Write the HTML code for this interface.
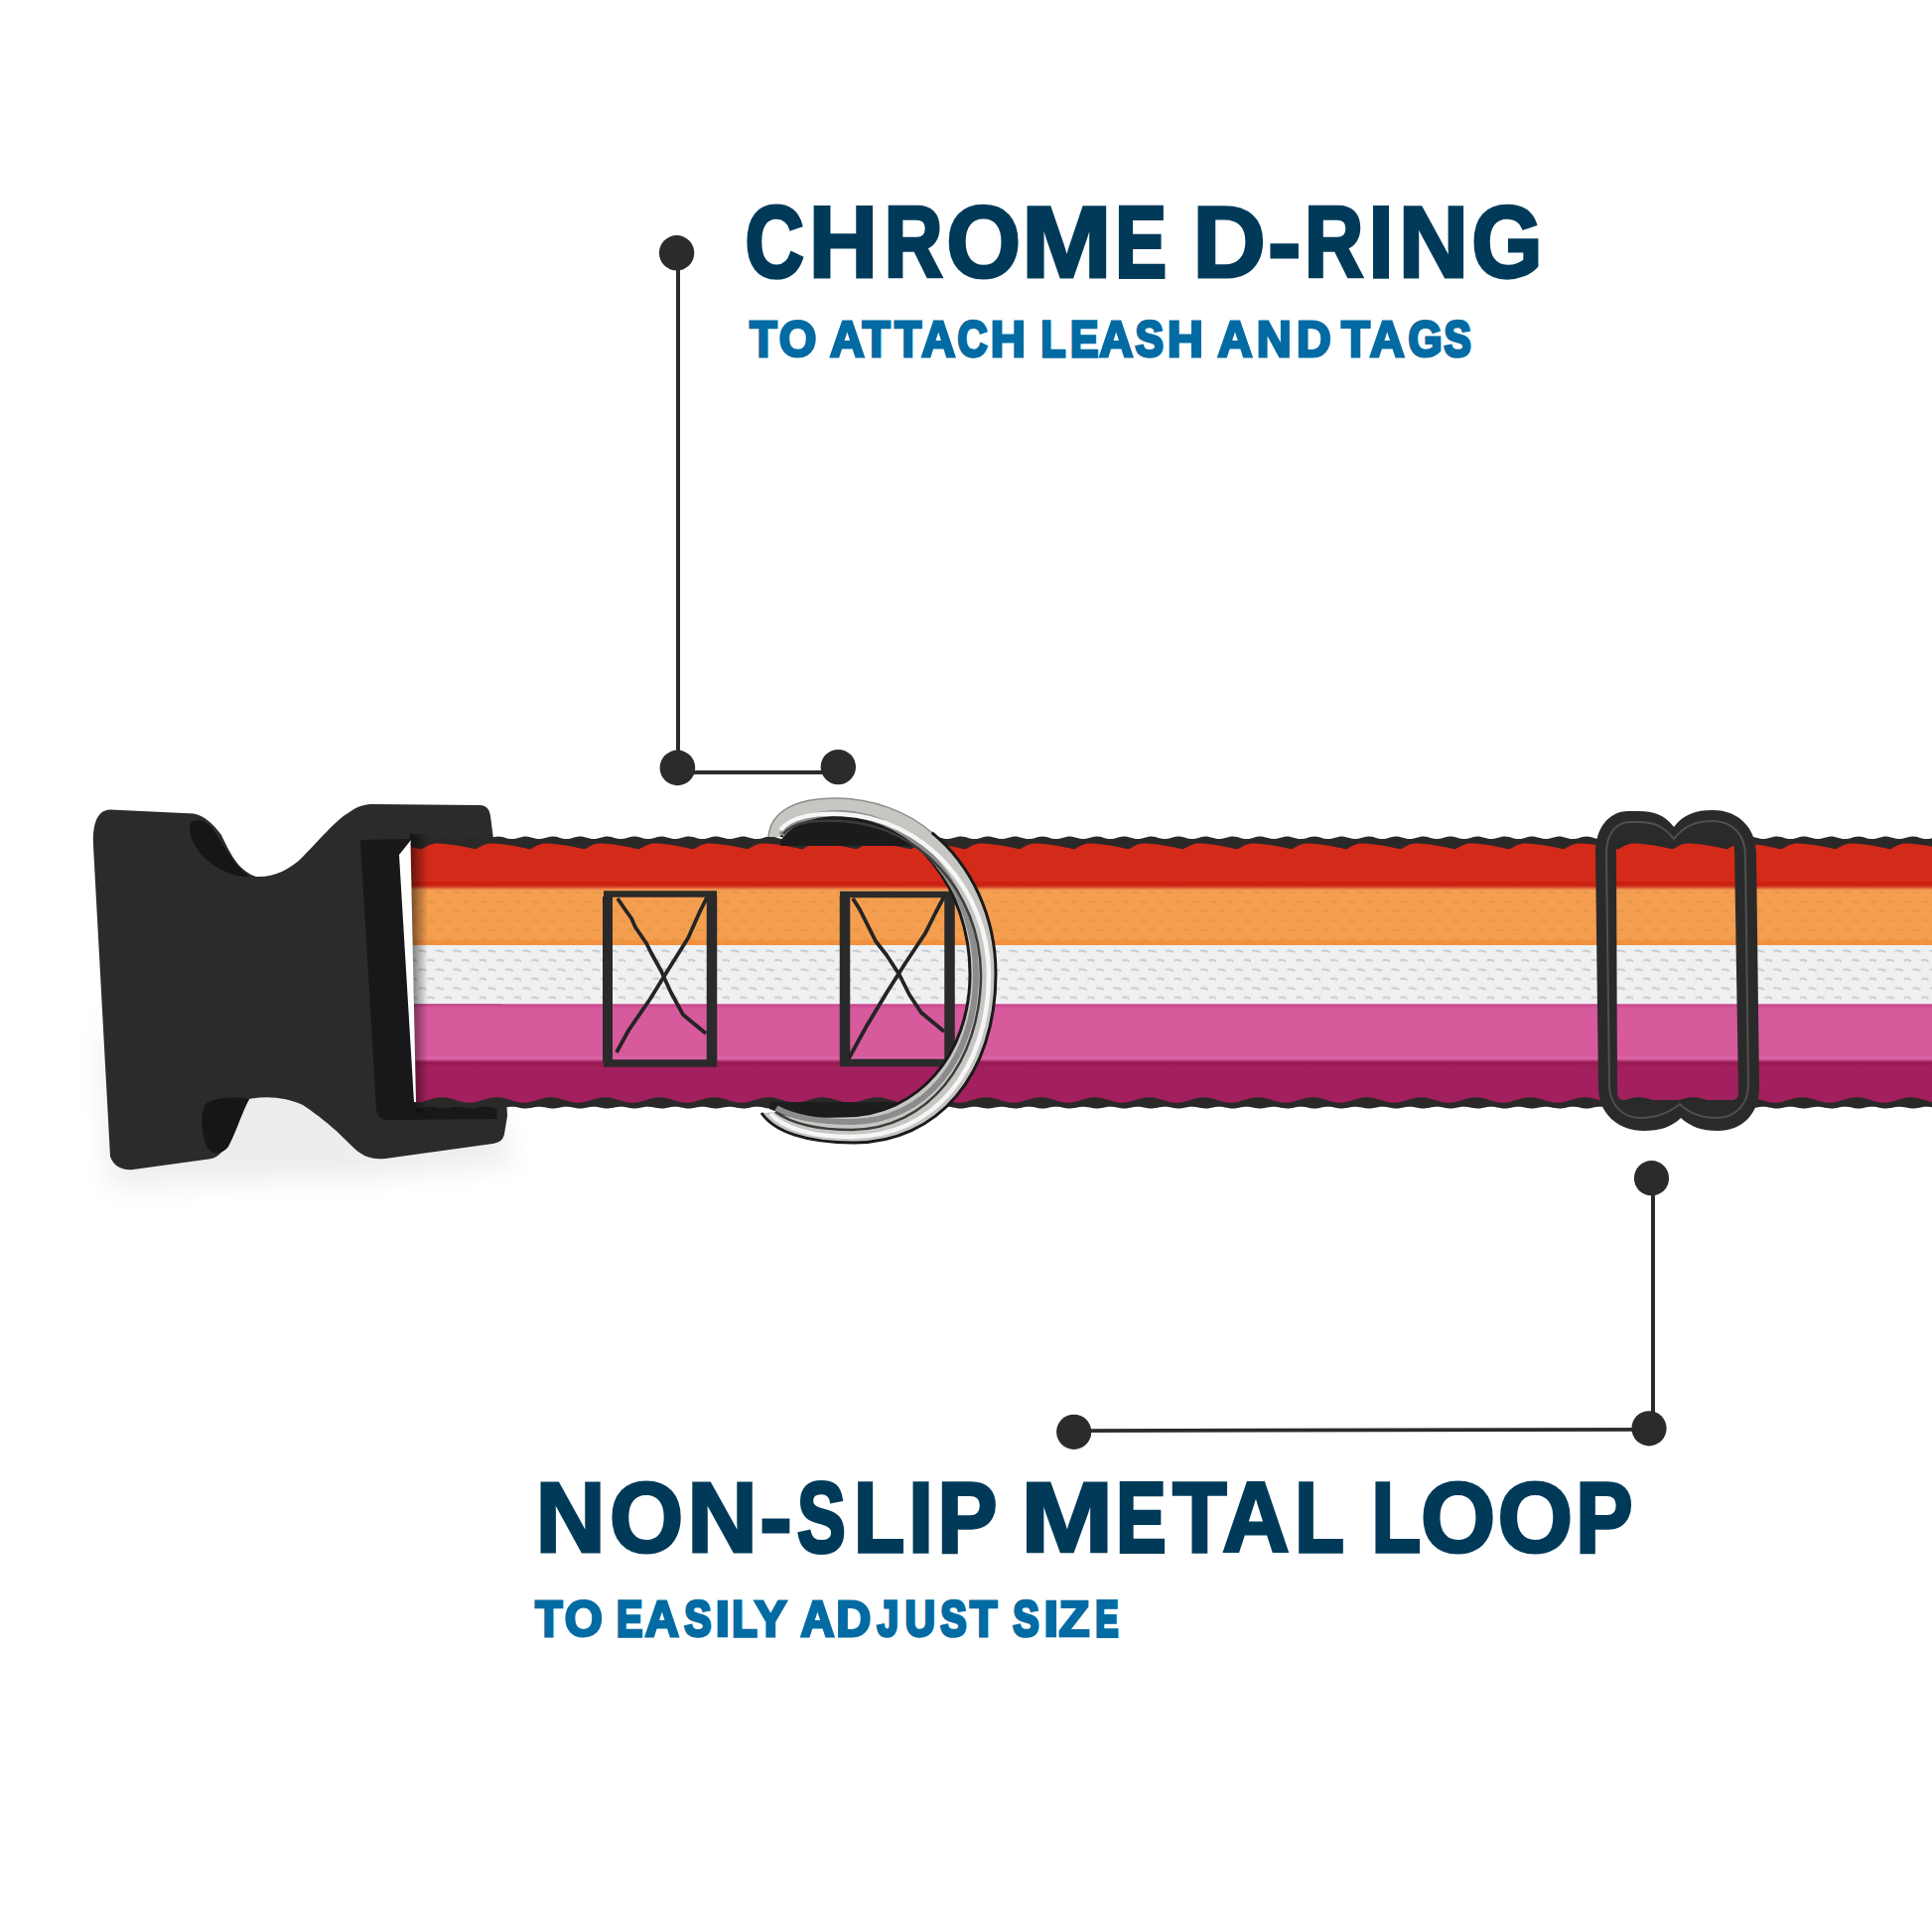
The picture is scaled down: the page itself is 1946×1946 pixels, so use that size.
<!DOCTYPE html>
<html><head><meta charset="utf-8">
<style>
html,body{margin:0;padding:0;background:#ffffff;width:1946px;height:1946px;overflow:hidden}
svg{display:block}
text{font-family:"Liberation Sans",sans-serif;font-weight:bold}
</style></head>
<body>
<svg width="1946" height="1946" viewBox="0 0 1946 1946">
<defs>
  <linearGradient id="ringg" x1="0" y1="0" x2="1" y2="1">
    <stop offset="0" stop-color="#e6e6e6"/>
    <stop offset="0.5" stop-color="#b9b9b9"/>
    <stop offset="1" stop-color="#8a8a8a"/>
  </linearGradient>
  <pattern id="texO" x="0" y="896" width="17.5" height="18.8" patternUnits="userSpaceOnUse">
    <path d="M 2,3 q 3.5,-1.2 7,0.8" stroke="#b8923f" stroke-opacity="0.42" stroke-width="1.8" fill="none"/>
    <path d="M 10.75,12.4 q 3.5,-1.2 7,0.8" stroke="#b8923f" stroke-opacity="0.42" stroke-width="1.8" fill="none"/>
  </pattern>
  <pattern id="texW" x="0" y="955" width="17.5" height="18.8" patternUnits="userSpaceOnUse">
    <path d="M 1.5,3 q 4,-1.6 8,1.2" stroke="#a3a6a8" stroke-opacity="0.5" stroke-width="2" fill="none"/>
    <path d="M 10.25,12.4 q 4,-1.6 8,1.2" stroke="#a3a6a8" stroke-opacity="0.5" stroke-width="2" fill="none"/>
  </pattern>
  <filter id="blur12" x="-30%" y="-30%" width="160%" height="160%"><feGaussianBlur stdDeviation="14"/></filter>
  <linearGradient id="pinkTop" x1="0" y1="0" x2="0" y2="1"><stop offset="0" stop-color="#c9408c"/><stop offset="1" stop-color="#d65a9c"/></linearGradient>
  <linearGradient id="magTop" x1="0" y1="0" x2="0" y2="1"><stop offset="0" stop-color="#d05897"/><stop offset="0.35" stop-color="#961852"/><stop offset="1" stop-color="#a1205d"/></linearGradient>
  <linearGradient id="redOr" x1="0" y1="0" x2="0" y2="1"><stop offset="0" stop-color="#c81c10"/><stop offset="0.3" stop-color="#cf3a20"/><stop offset="0.7" stop-color="#f2904e"/><stop offset="1" stop-color="#f6a457"/></linearGradient>
</defs>
<rect width="1946" height="1946" fill="#ffffff"/>

<!-- ===== annotation top ===== -->
<g fill="#2b2b2b" stroke="none">
  <rect x="681" y="255" width="4" height="520"/>
  <rect x="682" y="776" width="162" height="4"/>
  <circle cx="681.6" cy="254.8" r="17.7"/>
  <circle cx="682.4" cy="773.4" r="17.8"/>
  <circle cx="844.3" cy="772.6" r="17.7"/>
</g>
<!-- ===== annotation bottom ===== -->
<g fill="#2b2b2b" stroke="none">
  <rect x="1663" y="1187" width="4" height="252"/>
  <polygon points="1082,1439.2 1661,1438.1 1661,1441.8 1082,1442.9"/>
  <circle cx="1663.5" cy="1186.7" r="17.6"/>
  <circle cx="1661" cy="1438.8" r="17.6"/>
  <circle cx="1081.7" cy="1442.3" r="17.6"/>
</g>

<!-- ===== text ===== -->
<g font-size="101.2" fill="#013a59" stroke="#013a59" stroke-linejoin="miter">
<text stroke-width="3.70" transform="matrix(0.8116,0,0,1,750.53,279.3)">C</text>
<text stroke-width="3.16" transform="matrix(0.9480,0,0,1,814.78,279.3)">H</text>
<text stroke-width="3.73" transform="matrix(0.8033,0,0,1,890.66,279.3)">R</text>
<text stroke-width="3.15" transform="matrix(0.9514,0,0,1,953.25,279.3)">O</text>
<text stroke-width="2.77" transform="matrix(1.0825,0,0,1,1028.87,279.3)">M</text>
<text stroke-width="3.92" transform="matrix(0.7662,0,0,1,1123.31,279.3)">E</text>
<text stroke-width="2.97" transform="matrix(1.0086,0,0,1,1201.17,279.3)">D</text>
<text stroke-width="3.02" transform="matrix(0.9924,0,0,1,1276.98,279.3)">-</text>
<text stroke-width="3.70" transform="matrix(0.8110,0,0,1,1314.11,279.3)">R</text>
<text stroke-width="3.36" transform="matrix(0.8918,0,0,1,1378.46,279.3)">I</text>
<text stroke-width="3.11" transform="matrix(0.9631,0,0,1,1408.78,279.3)">N</text>
<text stroke-width="3.31" transform="matrix(0.9064,0,0,1,1482.14,279.3)">G</text>
</g>
<g font-size="50.4" fill="#036ba3" stroke="#036ba3" stroke-linejoin="miter">
<text stroke-width="3.17" transform="matrix(0.8828,0,0,1,755.30,359.35)">T</text>
<text stroke-width="2.92" transform="matrix(0.9595,0,0,1,784.72,359.35)">O</text>
<text stroke-width="2.94" transform="matrix(0.9523,0,0,1,836.10,359.35)">A</text>
<text stroke-width="3.11" transform="matrix(0.8996,0,0,1,868.79,359.35)">T</text>
<text stroke-width="3.23" transform="matrix(0.8659,0,0,1,901.31,359.35)">T</text>
<text stroke-width="3.00" transform="matrix(0.9345,0,0,1,928.13,359.35)">A</text>
<text stroke-width="3.40" transform="matrix(0.8224,0,0,1,964.60,359.35)">C</text>
<text stroke-width="2.89" transform="matrix(0.9686,0,0,1,997.83,359.35)">H</text>
<text stroke-width="3.48" transform="matrix(0.8042,0,0,1,1048.59,359.35)">L</text>
<text stroke-width="3.33" transform="matrix(0.8417,0,0,1,1077.96,359.35)">E</text>
<text stroke-width="3.00" transform="matrix(0.9345,0,0,1,1107.23,359.35)">A</text>
<text stroke-width="3.32" transform="matrix(0.8445,0,0,1,1143.57,359.35)">S</text>
<text stroke-width="2.81" transform="matrix(0.9956,0,0,1,1175.74,359.35)">H</text>
<text stroke-width="2.91" transform="matrix(0.9612,0,0,1,1226.39,359.35)">A</text>
<text stroke-width="2.91" transform="matrix(0.9619,0,0,1,1265.66,359.35)">N</text>
<text stroke-width="2.93" transform="matrix(0.9544,0,0,1,1306.08,359.35)">D</text>
<text stroke-width="3.02" transform="matrix(0.9266,0,0,1,1351.18,359.35)">T</text>
<text stroke-width="2.91" transform="matrix(0.9612,0,0,1,1379.79,359.35)">A</text>
<text stroke-width="3.23" transform="matrix(0.8674,0,0,1,1418.51,359.35)">G</text>
<text stroke-width="3.47" transform="matrix(0.8081,0,0,1,1454.53,359.35)">S</text>
</g>
<g font-size="100.7" fill="#013a59" stroke="#013a59" stroke-linejoin="miter">
<text stroke-width="3.10" transform="matrix(0.9662,0,0,1,539.39,1562.7)">N</text>
<text stroke-width="3.17" transform="matrix(0.9476,0,0,1,613.89,1562.7)">O</text>
<text stroke-width="3.09" transform="matrix(0.9713,0,0,1,692.26,1562.7)">N</text>
<text stroke-width="3.09" transform="matrix(0.9699,0,0,1,765.18,1562.7)">-</text>
<text stroke-width="4.14" transform="matrix(0.7243,0,0,1,802.90,1562.7)">S</text>
<text stroke-width="3.61" transform="matrix(0.8301,0,0,1,859.91,1562.7)">L</text>
<text stroke-width="3.35" transform="matrix(0.8962,0,0,1,915.06,1562.7)">I</text>
<text stroke-width="3.35" transform="matrix(0.8967,0,0,1,944.26,1562.7)">P</text>
<text stroke-width="2.69" transform="matrix(1.1149,0,0,1,1027.89,1562.7)">M</text>
<text stroke-width="4.01" transform="matrix(0.7487,0,0,1,1124.16,1562.7)">E</text>
<text stroke-width="3.40" transform="matrix(0.8820,0,0,1,1181.20,1562.7)">T</text>
<text stroke-width="3.24" transform="matrix(0.9266,0,0,1,1231.18,1562.7)">A</text>
<text stroke-width="3.72" transform="matrix(0.8069,0,0,1,1304.26,1562.7)">L</text>
<text stroke-width="3.72" transform="matrix(0.8069,0,0,1,1381.46,1562.7)">L</text>
<text stroke-width="3.12" transform="matrix(0.9604,0,0,1,1430.93,1562.7)">O</text>
<text stroke-width="3.11" transform="matrix(0.9661,0,0,1,1508.41,1562.7)">O</text>
<text stroke-width="3.52" transform="matrix(0.8528,0,0,1,1587.16,1562.7)">P</text>
</g>
<g font-size="49.7" fill="#036ba3" stroke="#036ba3" stroke-linejoin="miter">
<text stroke-width="3.14" transform="matrix(0.8918,0,0,1,539.20,1648.35)">T</text>
<text stroke-width="2.84" transform="matrix(0.9875,0,0,1,568.69,1648.35)">O</text>
<text stroke-width="3.55" transform="matrix(0.7890,0,0,1,621.08,1648.35)">E</text>
<text stroke-width="2.95" transform="matrix(0.9507,0,0,1,649.72,1648.35)">A</text>
<text stroke-width="3.42" transform="matrix(0.8194,0,0,1,689.13,1648.35)">S</text>
<text stroke-width="2.64" transform="matrix(1.0616,0,0,1,720.47,1648.35)">I</text>
<text stroke-width="3.35" transform="matrix(0.8351,0,0,1,737.22,1648.35)">L</text>
<text stroke-width="2.85" transform="matrix(0.9810,0,0,1,760.07,1648.35)">Y</text>
<text stroke-width="2.96" transform="matrix(0.9447,0,0,1,806.43,1648.35)">A</text>
<text stroke-width="2.86" transform="matrix(0.9777,0,0,1,842.15,1648.35)">D</text>
<text stroke-width="3.59" transform="matrix(0.7790,0,0,1,883.51,1648.35)">J</text>
<text stroke-width="3.29" transform="matrix(0.8503,0,0,1,911.46,1648.35)">U</text>
<text stroke-width="3.53" transform="matrix(0.7926,0,0,1,947.27,1648.35)">S</text>
<text stroke-width="3.13" transform="matrix(0.8952,0,0,1,976.90,1648.35)">T</text>
<text stroke-width="3.53" transform="matrix(0.7926,0,0,1,1020.27,1648.35)">S</text>
<text stroke-width="2.57" transform="matrix(1.0895,0,0,1,1051.18,1648.35)">I</text>
<text stroke-width="2.74" transform="matrix(1.0202,0,0,1,1066.49,1648.35)">Z</text>
<text stroke-width="4.07" transform="matrix(0.6886,0,0,1,1103.61,1648.35)">E</text>
</g>

<!-- ===== buckle ===== -->
<path fill="#000" opacity="0.07" filter="url(#blur12)" d="M 100,1000 L 110,1195 L 380,1185 L 520,1172 L 500,1120 L 110,1050 Z"/>
<path fill="#2b2b2d" d="M 111,815.6 L 195,819.5 C 205,821 215,830 223,841 C 232,860 240,877 258,883 C 275,884 292,876 305,863
 C 320,848 338,826 352,818 C 360,812 368,810 375,810 L 483,811 C 490,811 493,815 494,822 L 497,845 L 511,1124 L 508,1142
 C 507,1148 503,1151 496,1152 L 388,1167 C 375,1168 365,1166 352,1152 C 340,1140 330,1130 305,1113
 C 290,1106 270,1103 251,1107 C 243,1120 238,1135 235,1141 C 228,1155 222,1166 212,1167.3 L 134,1178
 C 125,1179 115,1176 111,1165 L 94,852 C 93,830 98,816 111,815.6 Z"/>
<!-- prong slots -->
<path fill="#161617" d="M 192,829 C 198,824 208,826 215,836 C 224,850 236,872 251,883 C 240,884 222,878 208,866 C 196,855 188,838 192,829 Z"/>
<path fill="#161617" d="M 207,1112 C 214,1106 235,1104 251,1107 C 244,1120 238,1140 230,1155 C 224,1163 214,1164 209,1156 C 203,1144 201,1122 207,1112 Z"/>
<!-- inner frame surface -->
<path fill="#18181a" d="M 363,846 L 414,845 L 419,1112 L 500,1112 L 501,1127 L 392,1128 C 383,1128 379,1124 379,1116 Z"/>
<!-- ===== webbing ===== -->
<clipPath id="webclip"><polygon points="413,835 1946,835 1946,1125 419,1125"/></clipPath>
<linearGradient id="leftshade" x1="0" y1="0" x2="1" y2="0">
  <stop offset="0" stop-color="#000" stop-opacity="0.55"/>
  <stop offset="1" stop-color="#000" stop-opacity="0"/>
</linearGradient>
<g clip-path="url(#webclip)">
  <rect x="400" y="848" width="1546" height="46" fill="#d42a1a"/>
  <rect x="400" y="888" width="1546" height="6" fill="#cb2012"/>
  <rect x="400" y="894" width="1546" height="58" fill="#f69e4f"/>
  <rect x="400" y="891" width="1546" height="7" fill="url(#redOr)"/>
  <rect x="400" y="947" width="1546" height="5" fill="#f3913f"/>
  <rect x="400" y="896" width="1546" height="54" fill="url(#texO)"/>
  <rect x="400" y="952" width="1546" height="59.5" fill="#eef0f1"/>
  <rect x="400" y="955" width="1546" height="54" fill="url(#texW)"/>
  <rect x="400" y="1011.5" width="1546" height="58.5" fill="#d65a9c"/>
  <rect x="400" y="1011.5" width="1546" height="4" fill="url(#pinkTop)"/>
  <rect x="400" y="1064" width="1546" height="4" fill="#da62a4"/>
  <rect x="400" y="1067" width="1546" height="45" fill="#a1205d"/>
  <rect x="400" y="1067" width="1546" height="9" fill="url(#magTop)"/>
  <path fill="#2a2928" d="M 408.0,844.98 L 410.0,844.61 L 412.0,844.08 L 414.0,843.49 L 416.0,842.96 L 418.0,842.61 L 420.0,842.50 L 422.0,842.66 L 424.0,843.06 L 426.0,843.61 L 428.0,844.20 L 430.0,844.70 L 432.0,845.02 L 434.0,845.09 L 436.0,844.89 L 438.0,844.47 L 440.0,843.90 L 442.0,843.32 L 444.0,842.83 L 446.0,842.55 L 448.0,842.52 L 450.0,842.76 L 452.0,843.21 L 454.0,843.79 L 456.0,844.36 L 458.0,844.82 L 460.0,845.07 L 462.0,845.06 L 464.0,844.79 L 466.0,844.31 L 468.0,843.73 L 470.0,843.16 L 472.0,842.72 L 474.0,842.51 L 476.0,842.57 L 478.0,842.88 L 480.0,843.38 L 482.0,843.96 L 484.0,844.52 L 486.0,844.92 L 488.0,845.10 L 490.0,845.00 L 492.0,844.66 L 494.0,844.14 L 496.0,843.55 L 498.0,843.01 L 500.0,842.63 L 502.0,842.50 L 504.0,842.63 L 506.0,843.01 L 508.0,843.55 L 510.0,844.14 L 512.0,844.66 L 514.0,845.00 L 516.0,845.10 L 518.0,844.92 L 520.0,844.52 L 522.0,843.96 L 524.0,843.38 L 526.0,842.88 L 528.0,842.57 L 530.0,842.51 L 532.0,842.72 L 534.0,843.16 L 536.0,843.73 L 538.0,844.31 L 540.0,844.79 L 542.0,845.06 L 544.0,845.07 L 546.0,844.82 L 548.0,844.36 L 550.0,843.79 L 552.0,843.21 L 554.0,842.76 L 556.0,842.52 L 558.0,842.55 L 560.0,842.83 L 562.0,843.32 L 564.0,843.90 L 566.0,844.47 L 568.0,844.89 L 570.0,845.09 L 572.0,845.02 L 574.0,844.70 L 576.0,844.20 L 578.0,843.61 L 580.0,843.06 L 582.0,842.66 L 584.0,842.50 L 586.0,842.61 L 588.0,842.96 L 590.0,843.49 L 592.0,844.08 L 594.0,844.61 L 596.0,844.98 L 598.0,845.10 L 600.0,844.95 L 602.0,844.57 L 604.0,844.02 L 606.0,843.43 L 608.0,842.92 L 610.0,842.59 L 612.0,842.51 L 614.0,842.69 L 616.0,843.11 L 618.0,843.67 L 620.0,844.25 L 622.0,844.75 L 624.0,845.04 L 626.0,845.08 L 628.0,844.86 L 630.0,844.42 L 632.0,843.84 L 634.0,843.26 L 636.0,842.80 L 638.0,842.53 L 640.0,842.53 L 642.0,842.80 L 644.0,843.26 L 646.0,843.84 L 648.0,844.42 L 650.0,844.86 L 652.0,845.08 L 654.0,845.04 L 656.0,844.75 L 658.0,844.25 L 660.0,843.67 L 662.0,843.11 L 664.0,842.69 L 666.0,842.51 L 668.0,842.59 L 670.0,842.92 L 672.0,843.43 L 674.0,844.02 L 676.0,844.57 L 678.0,844.95 L 680.0,845.10 L 682.0,844.98 L 684.0,844.61 L 686.0,844.08 L 688.0,843.49 L 690.0,842.96 L 692.0,842.61 L 694.0,842.50 L 696.0,842.66 L 698.0,843.06 L 700.0,843.61 L 702.0,844.20 L 704.0,844.70 L 706.0,845.02 L 708.0,845.09 L 710.0,844.89 L 712.0,844.47 L 714.0,843.90 L 716.0,843.32 L 718.0,842.83 L 720.0,842.55 L 722.0,842.52 L 724.0,842.76 L 726.0,843.21 L 728.0,843.79 L 730.0,844.36 L 732.0,844.82 L 734.0,845.07 L 736.0,845.06 L 738.0,844.79 L 740.0,844.31 L 742.0,843.73 L 744.0,843.16 L 746.0,842.72 L 748.0,842.51 L 750.0,842.57 L 752.0,842.88 L 754.0,843.38 L 756.0,843.96 L 758.0,844.52 L 760.0,844.92 L 762.0,845.10 L 764.0,845.00 L 766.0,844.66 L 768.0,844.14 L 770.0,843.55 L 772.0,843.01 L 774.0,842.63 L 776.0,842.50 L 778.0,842.63 L 780.0,843.01 L 782.0,843.55 L 784.0,844.14 L 786.0,844.66 L 788.0,845.00 L 790.0,845.10 L 792.0,844.92 L 794.0,844.52 L 796.0,843.96 L 798.0,843.38 L 800.0,842.88 L 802.0,842.57 L 804.0,842.51 L 806.0,842.72 L 808.0,843.16 L 810.0,843.73 L 812.0,844.31 L 814.0,844.79 L 816.0,845.06 L 818.0,845.07 L 820.0,844.82 L 822.0,844.36 L 824.0,843.79 L 826.0,843.21 L 828.0,842.76 L 830.0,842.52 L 832.0,842.55 L 834.0,842.83 L 836.0,843.32 L 838.0,843.90 L 840.0,844.47 L 842.0,844.89 L 844.0,845.09 L 846.0,845.02 L 848.0,844.70 L 850.0,844.20 L 852.0,843.61 L 854.0,843.06 L 856.0,842.66 L 858.0,842.50 L 860.0,842.61 L 862.0,842.96 L 864.0,843.49 L 866.0,844.08 L 868.0,844.61 L 870.0,844.98 L 872.0,845.10 L 874.0,844.95 L 876.0,844.57 L 878.0,844.02 L 880.0,843.43 L 882.0,842.92 L 884.0,842.59 L 886.0,842.51 L 888.0,842.69 L 890.0,843.11 L 892.0,843.67 L 894.0,844.25 L 896.0,844.75 L 898.0,845.04 L 900.0,845.08 L 902.0,844.86 L 904.0,844.42 L 906.0,843.84 L 908.0,843.26 L 910.0,842.80 L 912.0,842.53 L 914.0,842.53 L 916.0,842.80 L 918.0,843.26 L 920.0,843.84 L 922.0,844.42 L 924.0,844.86 L 926.0,845.08 L 928.0,845.04 L 930.0,844.75 L 932.0,844.25 L 934.0,843.67 L 936.0,843.11 L 938.0,842.69 L 940.0,842.51 L 942.0,842.59 L 944.0,842.92 L 946.0,843.43 L 948.0,844.02 L 950.0,844.57 L 952.0,844.95 L 954.0,845.10 L 956.0,844.98 L 958.0,844.61 L 960.0,844.08 L 962.0,843.49 L 964.0,842.96 L 966.0,842.61 L 968.0,842.50 L 970.0,842.66 L 972.0,843.06 L 974.0,843.61 L 976.0,844.20 L 978.0,844.70 L 980.0,845.02 L 982.0,845.09 L 984.0,844.89 L 986.0,844.47 L 988.0,843.90 L 990.0,843.32 L 992.0,842.83 L 994.0,842.55 L 996.0,842.52 L 998.0,842.76 L 1000.0,843.21 L 1002.0,843.79 L 1004.0,844.36 L 1006.0,844.82 L 1008.0,845.07 L 1010.0,845.06 L 1012.0,844.79 L 1014.0,844.31 L 1016.0,843.73 L 1018.0,843.16 L 1020.0,842.72 L 1022.0,842.51 L 1024.0,842.57 L 1026.0,842.88 L 1028.0,843.38 L 1030.0,843.96 L 1032.0,844.52 L 1034.0,844.92 L 1036.0,845.10 L 1038.0,845.00 L 1040.0,844.66 L 1042.0,844.14 L 1044.0,843.55 L 1046.0,843.01 L 1048.0,842.63 L 1050.0,842.50 L 1052.0,842.63 L 1054.0,843.01 L 1056.0,843.55 L 1058.0,844.14 L 1060.0,844.66 L 1062.0,845.00 L 1064.0,845.10 L 1066.0,844.92 L 1068.0,844.52 L 1070.0,843.96 L 1072.0,843.38 L 1074.0,842.88 L 1076.0,842.57 L 1078.0,842.51 L 1080.0,842.72 L 1082.0,843.16 L 1084.0,843.73 L 1086.0,844.31 L 1088.0,844.79 L 1090.0,845.06 L 1092.0,845.07 L 1094.0,844.82 L 1096.0,844.36 L 1098.0,843.79 L 1100.0,843.21 L 1102.0,842.76 L 1104.0,842.52 L 1106.0,842.55 L 1108.0,842.83 L 1110.0,843.32 L 1112.0,843.90 L 1114.0,844.47 L 1116.0,844.89 L 1118.0,845.09 L 1120.0,845.02 L 1122.0,844.70 L 1124.0,844.20 L 1126.0,843.61 L 1128.0,843.06 L 1130.0,842.66 L 1132.0,842.50 L 1134.0,842.61 L 1136.0,842.96 L 1138.0,843.49 L 1140.0,844.08 L 1142.0,844.61 L 1144.0,844.98 L 1146.0,845.10 L 1148.0,844.95 L 1150.0,844.57 L 1152.0,844.02 L 1154.0,843.43 L 1156.0,842.92 L 1158.0,842.59 L 1160.0,842.51 L 1162.0,842.69 L 1164.0,843.11 L 1166.0,843.67 L 1168.0,844.25 L 1170.0,844.75 L 1172.0,845.04 L 1174.0,845.08 L 1176.0,844.86 L 1178.0,844.42 L 1180.0,843.84 L 1182.0,843.26 L 1184.0,842.80 L 1186.0,842.53 L 1188.0,842.53 L 1190.0,842.80 L 1192.0,843.26 L 1194.0,843.84 L 1196.0,844.42 L 1198.0,844.86 L 1200.0,845.08 L 1202.0,845.04 L 1204.0,844.75 L 1206.0,844.25 L 1208.0,843.67 L 1210.0,843.11 L 1212.0,842.69 L 1214.0,842.51 L 1216.0,842.59 L 1218.0,842.92 L 1220.0,843.43 L 1222.0,844.02 L 1224.0,844.57 L 1226.0,844.95 L 1228.0,845.10 L 1230.0,844.98 L 1232.0,844.61 L 1234.0,844.08 L 1236.0,843.49 L 1238.0,842.96 L 1240.0,842.61 L 1242.0,842.50 L 1244.0,842.66 L 1246.0,843.06 L 1248.0,843.61 L 1250.0,844.20 L 1252.0,844.70 L 1254.0,845.02 L 1256.0,845.09 L 1258.0,844.89 L 1260.0,844.47 L 1262.0,843.90 L 1264.0,843.32 L 1266.0,842.83 L 1268.0,842.55 L 1270.0,842.52 L 1272.0,842.76 L 1274.0,843.21 L 1276.0,843.79 L 1278.0,844.36 L 1280.0,844.82 L 1282.0,845.07 L 1284.0,845.06 L 1286.0,844.79 L 1288.0,844.31 L 1290.0,843.73 L 1292.0,843.16 L 1294.0,842.72 L 1296.0,842.51 L 1298.0,842.57 L 1300.0,842.88 L 1302.0,843.38 L 1304.0,843.96 L 1306.0,844.52 L 1308.0,844.92 L 1310.0,845.10 L 1312.0,845.00 L 1314.0,844.66 L 1316.0,844.14 L 1318.0,843.55 L 1320.0,843.01 L 1322.0,842.63 L 1324.0,842.50 L 1326.0,842.63 L 1328.0,843.01 L 1330.0,843.55 L 1332.0,844.14 L 1334.0,844.66 L 1336.0,845.00 L 1338.0,845.10 L 1340.0,844.92 L 1342.0,844.52 L 1344.0,843.96 L 1346.0,843.38 L 1348.0,842.88 L 1350.0,842.57 L 1352.0,842.51 L 1354.0,842.72 L 1356.0,843.16 L 1358.0,843.73 L 1360.0,844.31 L 1362.0,844.79 L 1364.0,845.06 L 1366.0,845.07 L 1368.0,844.82 L 1370.0,844.36 L 1372.0,843.79 L 1374.0,843.21 L 1376.0,842.76 L 1378.0,842.52 L 1380.0,842.55 L 1382.0,842.83 L 1384.0,843.32 L 1386.0,843.90 L 1388.0,844.47 L 1390.0,844.89 L 1392.0,845.09 L 1394.0,845.02 L 1396.0,844.70 L 1398.0,844.20 L 1400.0,843.61 L 1402.0,843.06 L 1404.0,842.66 L 1406.0,842.50 L 1408.0,842.61 L 1410.0,842.96 L 1412.0,843.49 L 1414.0,844.08 L 1416.0,844.61 L 1418.0,844.98 L 1420.0,845.10 L 1422.0,844.95 L 1424.0,844.57 L 1426.0,844.02 L 1428.0,843.43 L 1430.0,842.92 L 1432.0,842.59 L 1434.0,842.51 L 1436.0,842.69 L 1438.0,843.11 L 1440.0,843.67 L 1442.0,844.25 L 1444.0,844.75 L 1446.0,845.04 L 1448.0,845.08 L 1450.0,844.86 L 1452.0,844.42 L 1454.0,843.84 L 1456.0,843.26 L 1458.0,842.80 L 1460.0,842.53 L 1462.0,842.53 L 1464.0,842.80 L 1466.0,843.26 L 1468.0,843.84 L 1470.0,844.42 L 1472.0,844.86 L 1474.0,845.08 L 1476.0,845.04 L 1478.0,844.75 L 1480.0,844.25 L 1482.0,843.67 L 1484.0,843.11 L 1486.0,842.69 L 1488.0,842.51 L 1490.0,842.59 L 1492.0,842.92 L 1494.0,843.43 L 1496.0,844.02 L 1498.0,844.57 L 1500.0,844.95 L 1502.0,845.10 L 1504.0,844.98 L 1506.0,844.61 L 1508.0,844.08 L 1510.0,843.49 L 1512.0,842.96 L 1514.0,842.61 L 1516.0,842.50 L 1518.0,842.66 L 1520.0,843.06 L 1522.0,843.61 L 1524.0,844.20 L 1526.0,844.70 L 1528.0,845.02 L 1530.0,845.09 L 1532.0,844.89 L 1534.0,844.47 L 1536.0,843.90 L 1538.0,843.32 L 1540.0,842.83 L 1542.0,842.55 L 1544.0,842.52 L 1546.0,842.76 L 1548.0,843.21 L 1550.0,843.79 L 1552.0,844.36 L 1554.0,844.82 L 1556.0,845.07 L 1558.0,845.06 L 1560.0,844.79 L 1562.0,844.31 L 1564.0,843.73 L 1566.0,843.16 L 1568.0,842.72 L 1570.0,842.51 L 1572.0,842.57 L 1574.0,842.88 L 1576.0,843.38 L 1578.0,843.96 L 1580.0,844.52 L 1582.0,844.92 L 1584.0,845.10 L 1586.0,845.00 L 1588.0,844.66 L 1590.0,844.14 L 1592.0,843.55 L 1594.0,843.01 L 1596.0,842.63 L 1598.0,842.50 L 1600.0,842.63 L 1602.0,843.01 L 1604.0,843.55 L 1606.0,844.14 L 1608.0,844.66 L 1610.0,845.00 L 1612.0,845.10 L 1614.0,844.92 L 1616.0,844.52 L 1618.0,843.96 L 1620.0,843.38 L 1622.0,842.88 L 1624.0,842.57 L 1626.0,842.51 L 1628.0,842.72 L 1630.0,843.16 L 1632.0,843.73 L 1634.0,844.31 L 1636.0,844.79 L 1638.0,845.06 L 1640.0,845.07 L 1642.0,844.82 L 1644.0,844.36 L 1646.0,843.79 L 1648.0,843.21 L 1650.0,842.76 L 1652.0,842.52 L 1654.0,842.55 L 1656.0,842.83 L 1658.0,843.32 L 1660.0,843.90 L 1662.0,844.47 L 1664.0,844.89 L 1666.0,845.09 L 1668.0,845.02 L 1670.0,844.70 L 1672.0,844.20 L 1674.0,843.61 L 1676.0,843.06 L 1678.0,842.66 L 1680.0,842.50 L 1682.0,842.61 L 1684.0,842.96 L 1686.0,843.49 L 1688.0,844.08 L 1690.0,844.61 L 1692.0,844.98 L 1694.0,845.10 L 1696.0,844.95 L 1698.0,844.57 L 1700.0,844.02 L 1702.0,843.43 L 1704.0,842.92 L 1706.0,842.59 L 1708.0,842.51 L 1710.0,842.69 L 1712.0,843.11 L 1714.0,843.67 L 1716.0,844.25 L 1718.0,844.75 L 1720.0,845.04 L 1722.0,845.08 L 1724.0,844.86 L 1726.0,844.42 L 1728.0,843.84 L 1730.0,843.26 L 1732.0,842.80 L 1734.0,842.53 L 1736.0,842.53 L 1738.0,842.80 L 1740.0,843.26 L 1742.0,843.84 L 1744.0,844.42 L 1746.0,844.86 L 1748.0,845.08 L 1750.0,845.04 L 1752.0,844.75 L 1754.0,844.25 L 1756.0,843.67 L 1758.0,843.11 L 1760.0,842.69 L 1762.0,842.51 L 1764.0,842.59 L 1766.0,842.92 L 1768.0,843.43 L 1770.0,844.02 L 1772.0,844.57 L 1774.0,844.95 L 1776.0,845.10 L 1778.0,844.98 L 1780.0,844.61 L 1782.0,844.08 L 1784.0,843.49 L 1786.0,842.96 L 1788.0,842.61 L 1790.0,842.50 L 1792.0,842.66 L 1794.0,843.06 L 1796.0,843.61 L 1798.0,844.20 L 1800.0,844.70 L 1802.0,845.02 L 1804.0,845.09 L 1806.0,844.89 L 1808.0,844.47 L 1810.0,843.90 L 1812.0,843.32 L 1814.0,842.83 L 1816.0,842.55 L 1818.0,842.52 L 1820.0,842.76 L 1822.0,843.21 L 1824.0,843.79 L 1826.0,844.36 L 1828.0,844.82 L 1830.0,845.07 L 1832.0,845.06 L 1834.0,844.79 L 1836.0,844.31 L 1838.0,843.73 L 1840.0,843.16 L 1842.0,842.72 L 1844.0,842.51 L 1846.0,842.57 L 1848.0,842.88 L 1850.0,843.38 L 1852.0,843.96 L 1854.0,844.52 L 1856.0,844.92 L 1858.0,845.10 L 1860.0,845.00 L 1862.0,844.66 L 1864.0,844.14 L 1866.0,843.55 L 1868.0,843.01 L 1870.0,842.63 L 1872.0,842.50 L 1874.0,842.63 L 1876.0,843.01 L 1878.0,843.55 L 1880.0,844.14 L 1882.0,844.66 L 1884.0,845.00 L 1886.0,845.10 L 1888.0,844.92 L 1890.0,844.52 L 1892.0,843.96 L 1894.0,843.38 L 1896.0,842.88 L 1898.0,842.57 L 1900.0,842.51 L 1902.0,842.72 L 1904.0,843.16 L 1906.0,843.73 L 1908.0,844.31 L 1910.0,844.79 L 1912.0,845.06 L 1914.0,845.07 L 1916.0,844.82 L 1918.0,844.36 L 1920.0,843.79 L 1922.0,843.21 L 1924.0,842.76 L 1926.0,842.52 L 1928.0,842.55 L 1930.0,842.83 L 1932.0,843.32 L 1934.0,843.90 L 1936.0,844.47 L 1938.0,844.89 L 1940.0,845.09 L 1942.0,845.02 L 1944.0,844.70 L 1946.0,844.20 L 1948.0,843.61 L 1950.0,843.06 L 1952.0,842.66 L 1954.0,842.50 L 1956.0,842.61 L 1956.0,854.81 L 1954.0,854.35 L 1952.0,853.91 L 1950.0,853.49 L 1948.0,853.08 L 1946.0,852.68 L 1944.0,852.31 L 1942.0,851.95 L 1940.0,851.61 L 1938.0,851.29 L 1936.0,851.00 L 1934.0,850.72 L 1932.0,850.46 L 1930.0,850.23 L 1928.0,850.02 L 1926.0,849.84 L 1924.0,849.69 L 1922.0,849.58 L 1920.0,849.51 L 1918.0,849.57 L 1916.0,849.87 L 1914.0,850.41 L 1912.0,851.16 L 1910.0,852.09 L 1908.0,853.17 L 1906.0,854.34 L 1904.0,855.48 L 1902.0,855.00 L 1900.0,854.53 L 1898.0,854.09 L 1896.0,853.65 L 1894.0,853.24 L 1892.0,852.84 L 1890.0,852.46 L 1888.0,852.09 L 1886.0,851.75 L 1884.0,851.42 L 1882.0,851.11 L 1880.0,850.83 L 1878.0,850.56 L 1876.0,850.32 L 1874.0,850.10 L 1872.0,849.91 L 1870.0,849.75 L 1868.0,849.62 L 1866.0,849.53 L 1864.0,849.51 L 1862.0,849.72 L 1860.0,850.17 L 1858.0,850.84 L 1856.0,851.70 L 1854.0,852.72 L 1852.0,853.86 L 1850.0,855.07 L 1848.0,855.19 L 1846.0,854.72 L 1844.0,854.26 L 1842.0,853.83 L 1840.0,853.40 L 1838.0,853.00 L 1836.0,852.61 L 1834.0,852.24 L 1832.0,851.88 L 1830.0,851.55 L 1828.0,851.23 L 1826.0,850.94 L 1824.0,850.66 L 1822.0,850.41 L 1820.0,850.18 L 1818.0,849.98 L 1816.0,849.81 L 1814.0,849.66 L 1812.0,849.56 L 1810.0,849.50 L 1808.0,849.61 L 1806.0,849.96 L 1804.0,850.54 L 1802.0,851.33 L 1800.0,852.30 L 1798.0,853.40 L 1796.0,854.58 L 1794.0,855.38 L 1792.0,854.90 L 1790.0,854.44 L 1788.0,854.00 L 1786.0,853.57 L 1784.0,853.16 L 1782.0,852.76 L 1780.0,852.38 L 1778.0,852.02 L 1776.0,851.68 L 1774.0,851.36 L 1772.0,851.05 L 1770.0,850.77 L 1768.0,850.51 L 1766.0,850.27 L 1764.0,850.06 L 1762.0,849.87 L 1760.0,849.72 L 1758.0,849.59 L 1756.0,849.52 L 1754.0,849.53 L 1752.0,849.79 L 1750.0,850.28 L 1748.0,850.99 L 1746.0,851.89 L 1744.0,852.94 L 1742.0,854.10 L 1740.0,855.32 L 1738.0,855.09 L 1736.0,854.63 L 1734.0,854.17 L 1732.0,853.74 L 1730.0,853.32 L 1728.0,852.92 L 1726.0,852.53 L 1724.0,852.16 L 1722.0,851.81 L 1720.0,851.48 L 1718.0,851.17 L 1716.0,850.88 L 1714.0,850.61 L 1712.0,850.36 L 1710.0,850.14 L 1708.0,849.94 L 1706.0,849.78 L 1704.0,849.64 L 1702.0,849.54 L 1700.0,849.50 L 1698.0,849.66 L 1696.0,850.06 L 1694.0,850.68 L 1692.0,851.51 L 1690.0,852.51 L 1688.0,853.63 L 1686.0,854.83 L 1684.0,855.28 L 1682.0,854.81 L 1680.0,854.35 L 1678.0,853.91 L 1676.0,853.49 L 1674.0,853.08 L 1672.0,852.68 L 1670.0,852.31 L 1668.0,851.95 L 1666.0,851.61 L 1664.0,851.29 L 1662.0,851.00 L 1660.0,850.72 L 1658.0,850.46 L 1656.0,850.23 L 1654.0,850.02 L 1652.0,849.84 L 1650.0,849.69 L 1648.0,849.58 L 1646.0,849.51 L 1644.0,849.57 L 1642.0,849.87 L 1640.0,850.41 L 1638.0,851.16 L 1636.0,852.09 L 1634.0,853.17 L 1632.0,854.34 L 1630.0,855.48 L 1628.0,855.00 L 1626.0,854.53 L 1624.0,854.09 L 1622.0,853.65 L 1620.0,853.24 L 1618.0,852.84 L 1616.0,852.46 L 1614.0,852.09 L 1612.0,851.75 L 1610.0,851.42 L 1608.0,851.11 L 1606.0,850.83 L 1604.0,850.56 L 1602.0,850.32 L 1600.0,850.10 L 1598.0,849.91 L 1596.0,849.75 L 1594.0,849.62 L 1592.0,849.53 L 1590.0,849.51 L 1588.0,849.72 L 1586.0,850.17 L 1584.0,850.84 L 1582.0,851.70 L 1580.0,852.72 L 1578.0,853.86 L 1576.0,855.07 L 1574.0,855.19 L 1572.0,854.72 L 1570.0,854.26 L 1568.0,853.83 L 1566.0,853.40 L 1564.0,853.00 L 1562.0,852.61 L 1560.0,852.24 L 1558.0,851.88 L 1556.0,851.55 L 1554.0,851.23 L 1552.0,850.94 L 1550.0,850.66 L 1548.0,850.41 L 1546.0,850.18 L 1544.0,849.98 L 1542.0,849.81 L 1540.0,849.66 L 1538.0,849.56 L 1536.0,849.50 L 1534.0,849.61 L 1532.0,849.96 L 1530.0,850.54 L 1528.0,851.33 L 1526.0,852.30 L 1524.0,853.40 L 1522.0,854.58 L 1520.0,855.38 L 1518.0,854.90 L 1516.0,854.44 L 1514.0,854.00 L 1512.0,853.57 L 1510.0,853.16 L 1508.0,852.76 L 1506.0,852.38 L 1504.0,852.02 L 1502.0,851.68 L 1500.0,851.36 L 1498.0,851.05 L 1496.0,850.77 L 1494.0,850.51 L 1492.0,850.27 L 1490.0,850.06 L 1488.0,849.87 L 1486.0,849.72 L 1484.0,849.59 L 1482.0,849.52 L 1480.0,849.53 L 1478.0,849.79 L 1476.0,850.28 L 1474.0,850.99 L 1472.0,851.89 L 1470.0,852.94 L 1468.0,854.10 L 1466.0,855.32 L 1464.0,855.09 L 1462.0,854.63 L 1460.0,854.17 L 1458.0,853.74 L 1456.0,853.32 L 1454.0,852.92 L 1452.0,852.53 L 1450.0,852.16 L 1448.0,851.81 L 1446.0,851.48 L 1444.0,851.17 L 1442.0,850.88 L 1440.0,850.61 L 1438.0,850.36 L 1436.0,850.14 L 1434.0,849.94 L 1432.0,849.78 L 1430.0,849.64 L 1428.0,849.54 L 1426.0,849.50 L 1424.0,849.66 L 1422.0,850.06 L 1420.0,850.68 L 1418.0,851.51 L 1416.0,852.51 L 1414.0,853.63 L 1412.0,854.83 L 1410.0,855.28 L 1408.0,854.81 L 1406.0,854.35 L 1404.0,853.91 L 1402.0,853.49 L 1400.0,853.08 L 1398.0,852.68 L 1396.0,852.31 L 1394.0,851.95 L 1392.0,851.61 L 1390.0,851.29 L 1388.0,851.00 L 1386.0,850.72 L 1384.0,850.46 L 1382.0,850.23 L 1380.0,850.02 L 1378.0,849.84 L 1376.0,849.69 L 1374.0,849.58 L 1372.0,849.51 L 1370.0,849.57 L 1368.0,849.87 L 1366.0,850.41 L 1364.0,851.16 L 1362.0,852.09 L 1360.0,853.17 L 1358.0,854.34 L 1356.0,855.48 L 1354.0,855.00 L 1352.0,854.53 L 1350.0,854.09 L 1348.0,853.65 L 1346.0,853.24 L 1344.0,852.84 L 1342.0,852.46 L 1340.0,852.09 L 1338.0,851.75 L 1336.0,851.42 L 1334.0,851.11 L 1332.0,850.83 L 1330.0,850.56 L 1328.0,850.32 L 1326.0,850.10 L 1324.0,849.91 L 1322.0,849.75 L 1320.0,849.62 L 1318.0,849.53 L 1316.0,849.51 L 1314.0,849.72 L 1312.0,850.17 L 1310.0,850.84 L 1308.0,851.70 L 1306.0,852.72 L 1304.0,853.86 L 1302.0,855.07 L 1300.0,855.19 L 1298.0,854.72 L 1296.0,854.26 L 1294.0,853.83 L 1292.0,853.40 L 1290.0,853.00 L 1288.0,852.61 L 1286.0,852.24 L 1284.0,851.88 L 1282.0,851.55 L 1280.0,851.23 L 1278.0,850.94 L 1276.0,850.66 L 1274.0,850.41 L 1272.0,850.18 L 1270.0,849.98 L 1268.0,849.81 L 1266.0,849.66 L 1264.0,849.56 L 1262.0,849.50 L 1260.0,849.61 L 1258.0,849.96 L 1256.0,850.54 L 1254.0,851.33 L 1252.0,852.30 L 1250.0,853.40 L 1248.0,854.58 L 1246.0,855.38 L 1244.0,854.90 L 1242.0,854.44 L 1240.0,854.00 L 1238.0,853.57 L 1236.0,853.16 L 1234.0,852.76 L 1232.0,852.38 L 1230.0,852.02 L 1228.0,851.68 L 1226.0,851.36 L 1224.0,851.05 L 1222.0,850.77 L 1220.0,850.51 L 1218.0,850.27 L 1216.0,850.06 L 1214.0,849.87 L 1212.0,849.72 L 1210.0,849.59 L 1208.0,849.52 L 1206.0,849.53 L 1204.0,849.79 L 1202.0,850.28 L 1200.0,850.99 L 1198.0,851.89 L 1196.0,852.94 L 1194.0,854.10 L 1192.0,855.32 L 1190.0,855.09 L 1188.0,854.63 L 1186.0,854.17 L 1184.0,853.74 L 1182.0,853.32 L 1180.0,852.92 L 1178.0,852.53 L 1176.0,852.16 L 1174.0,851.81 L 1172.0,851.48 L 1170.0,851.17 L 1168.0,850.88 L 1166.0,850.61 L 1164.0,850.36 L 1162.0,850.14 L 1160.0,849.94 L 1158.0,849.78 L 1156.0,849.64 L 1154.0,849.54 L 1152.0,849.50 L 1150.0,849.66 L 1148.0,850.06 L 1146.0,850.68 L 1144.0,851.51 L 1142.0,852.51 L 1140.0,853.63 L 1138.0,854.83 L 1136.0,855.28 L 1134.0,854.81 L 1132.0,854.35 L 1130.0,853.91 L 1128.0,853.49 L 1126.0,853.08 L 1124.0,852.68 L 1122.0,852.31 L 1120.0,851.95 L 1118.0,851.61 L 1116.0,851.29 L 1114.0,851.00 L 1112.0,850.72 L 1110.0,850.46 L 1108.0,850.23 L 1106.0,850.02 L 1104.0,849.84 L 1102.0,849.69 L 1100.0,849.58 L 1098.0,849.51 L 1096.0,849.57 L 1094.0,849.87 L 1092.0,850.41 L 1090.0,851.16 L 1088.0,852.09 L 1086.0,853.17 L 1084.0,854.34 L 1082.0,855.48 L 1080.0,855.00 L 1078.0,854.53 L 1076.0,854.09 L 1074.0,853.65 L 1072.0,853.24 L 1070.0,852.84 L 1068.0,852.46 L 1066.0,852.09 L 1064.0,851.75 L 1062.0,851.42 L 1060.0,851.11 L 1058.0,850.83 L 1056.0,850.56 L 1054.0,850.32 L 1052.0,850.10 L 1050.0,849.91 L 1048.0,849.75 L 1046.0,849.62 L 1044.0,849.53 L 1042.0,849.51 L 1040.0,849.72 L 1038.0,850.17 L 1036.0,850.84 L 1034.0,851.70 L 1032.0,852.72 L 1030.0,853.86 L 1028.0,855.07 L 1026.0,855.19 L 1024.0,854.72 L 1022.0,854.26 L 1020.0,853.83 L 1018.0,853.40 L 1016.0,853.00 L 1014.0,852.61 L 1012.0,852.24 L 1010.0,851.88 L 1008.0,851.55 L 1006.0,851.23 L 1004.0,850.94 L 1002.0,850.66 L 1000.0,850.41 L 998.0,850.18 L 996.0,849.98 L 994.0,849.81 L 992.0,849.66 L 990.0,849.56 L 988.0,849.50 L 986.0,849.61 L 984.0,849.96 L 982.0,850.54 L 980.0,851.33 L 978.0,852.30 L 976.0,853.40 L 974.0,854.58 L 972.0,855.38 L 970.0,854.90 L 968.0,854.44 L 966.0,854.00 L 964.0,853.57 L 962.0,853.16 L 960.0,852.76 L 958.0,852.38 L 956.0,852.02 L 954.0,851.68 L 952.0,851.36 L 950.0,851.05 L 948.0,850.77 L 946.0,850.51 L 944.0,850.27 L 942.0,850.06 L 940.0,849.87 L 938.0,849.72 L 936.0,849.59 L 934.0,849.52 L 932.0,849.53 L 930.0,849.79 L 928.0,850.28 L 926.0,850.99 L 924.0,851.89 L 922.0,852.94 L 920.0,854.10 L 918.0,855.32 L 916.0,855.09 L 914.0,854.63 L 912.0,854.17 L 910.0,853.74 L 908.0,853.32 L 906.0,852.92 L 904.0,852.53 L 902.0,852.16 L 900.0,851.81 L 898.0,851.48 L 896.0,851.17 L 894.0,850.88 L 892.0,850.61 L 890.0,850.36 L 888.0,850.14 L 886.0,849.94 L 884.0,849.78 L 882.0,849.64 L 880.0,849.54 L 878.0,849.50 L 876.0,849.66 L 874.0,850.06 L 872.0,850.68 L 870.0,851.51 L 868.0,852.51 L 866.0,853.63 L 864.0,854.83 L 862.0,855.28 L 860.0,854.81 L 858.0,854.35 L 856.0,853.91 L 854.0,853.49 L 852.0,853.08 L 850.0,852.68 L 848.0,852.31 L 846.0,851.95 L 844.0,851.61 L 842.0,851.29 L 840.0,851.00 L 838.0,850.72 L 836.0,850.46 L 834.0,850.23 L 832.0,850.02 L 830.0,849.84 L 828.0,849.69 L 826.0,849.58 L 824.0,849.51 L 822.0,849.57 L 820.0,849.87 L 818.0,850.41 L 816.0,851.16 L 814.0,852.09 L 812.0,853.17 L 810.0,854.34 L 808.0,855.48 L 806.0,855.00 L 804.0,854.53 L 802.0,854.09 L 800.0,853.65 L 798.0,853.24 L 796.0,852.84 L 794.0,852.46 L 792.0,852.09 L 790.0,851.75 L 788.0,851.42 L 786.0,851.11 L 784.0,850.83 L 782.0,850.56 L 780.0,850.32 L 778.0,850.10 L 776.0,849.91 L 774.0,849.75 L 772.0,849.62 L 770.0,849.53 L 768.0,849.51 L 766.0,849.72 L 764.0,850.17 L 762.0,850.84 L 760.0,851.70 L 758.0,852.72 L 756.0,853.86 L 754.0,855.07 L 752.0,855.19 L 750.0,854.72 L 748.0,854.26 L 746.0,853.83 L 744.0,853.40 L 742.0,853.00 L 740.0,852.61 L 738.0,852.24 L 736.0,851.88 L 734.0,851.55 L 732.0,851.23 L 730.0,850.94 L 728.0,850.66 L 726.0,850.41 L 724.0,850.18 L 722.0,849.98 L 720.0,849.81 L 718.0,849.66 L 716.0,849.56 L 714.0,849.50 L 712.0,849.61 L 710.0,849.96 L 708.0,850.54 L 706.0,851.33 L 704.0,852.30 L 702.0,853.40 L 700.0,854.58 L 698.0,855.38 L 696.0,854.90 L 694.0,854.44 L 692.0,854.00 L 690.0,853.57 L 688.0,853.16 L 686.0,852.76 L 684.0,852.38 L 682.0,852.02 L 680.0,851.68 L 678.0,851.36 L 676.0,851.05 L 674.0,850.77 L 672.0,850.51 L 670.0,850.27 L 668.0,850.06 L 666.0,849.87 L 664.0,849.72 L 662.0,849.59 L 660.0,849.52 L 658.0,849.53 L 656.0,849.79 L 654.0,850.28 L 652.0,850.99 L 650.0,851.89 L 648.0,852.94 L 646.0,854.10 L 644.0,855.32 L 642.0,855.09 L 640.0,854.63 L 638.0,854.17 L 636.0,853.74 L 634.0,853.32 L 632.0,852.92 L 630.0,852.53 L 628.0,852.16 L 626.0,851.81 L 624.0,851.48 L 622.0,851.17 L 620.0,850.88 L 618.0,850.61 L 616.0,850.36 L 614.0,850.14 L 612.0,849.94 L 610.0,849.78 L 608.0,849.64 L 606.0,849.54 L 604.0,849.50 L 602.0,849.66 L 600.0,850.06 L 598.0,850.68 L 596.0,851.51 L 594.0,852.51 L 592.0,853.63 L 590.0,854.83 L 588.0,855.28 L 586.0,854.81 L 584.0,854.35 L 582.0,853.91 L 580.0,853.49 L 578.0,853.08 L 576.0,852.68 L 574.0,852.31 L 572.0,851.95 L 570.0,851.61 L 568.0,851.29 L 566.0,851.00 L 564.0,850.72 L 562.0,850.46 L 560.0,850.23 L 558.0,850.02 L 556.0,849.84 L 554.0,849.69 L 552.0,849.58 L 550.0,849.51 L 548.0,849.57 L 546.0,849.87 L 544.0,850.41 L 542.0,851.16 L 540.0,852.09 L 538.0,853.17 L 536.0,854.34 L 534.0,855.48 L 532.0,855.00 L 530.0,854.53 L 528.0,854.09 L 526.0,853.65 L 524.0,853.24 L 522.0,852.84 L 520.0,852.46 L 518.0,852.09 L 516.0,851.75 L 514.0,851.42 L 512.0,851.11 L 510.0,850.83 L 508.0,850.56 L 506.0,850.32 L 504.0,850.10 L 502.0,849.91 L 500.0,849.75 L 498.0,849.62 L 496.0,849.53 L 494.0,849.51 L 492.0,849.72 L 490.0,850.17 L 488.0,850.84 L 486.0,851.70 L 484.0,852.72 L 482.0,853.86 L 480.0,855.07 L 478.0,855.19 L 476.0,854.72 L 474.0,854.26 L 472.0,853.83 L 470.0,853.40 L 468.0,853.00 L 466.0,852.61 L 464.0,852.24 L 462.0,851.88 L 460.0,851.55 L 458.0,851.23 L 456.0,850.94 L 454.0,850.66 L 452.0,850.41 L 450.0,850.18 L 448.0,849.98 L 446.0,849.81 L 444.0,849.66 L 442.0,849.56 L 440.0,849.50 L 438.0,849.61 L 436.0,849.96 L 434.0,850.54 L 432.0,851.33 L 430.0,852.30 L 428.0,853.40 L 426.0,854.58 L 424.0,855.38 L 422.0,854.90 L 420.0,854.44 L 418.0,854.00 L 416.0,853.57 L 414.0,853.16 L 412.0,852.76 L 410.0,852.38 L 408.0,852.02 Z"/>
  <path fill="#2a2928" d="M 408.0,1109.21 L 410.0,1109.75 L 412.0,1110.20 L 414.0,1110.54 L 416.0,1110.74 L 418.0,1110.80 L 420.0,1110.71 L 422.0,1110.48 L 424.0,1110.12 L 426.0,1109.65 L 428.0,1109.09 L 430.0,1108.48 L 432.0,1107.84 L 434.0,1107.21 L 436.0,1106.62 L 438.0,1106.10 L 440.0,1105.68 L 442.0,1105.39 L 444.0,1105.23 L 446.0,1105.21 L 448.0,1105.34 L 450.0,1105.61 L 452.0,1106.01 L 454.0,1106.51 L 456.0,1107.09 L 458.0,1107.71 L 460.0,1108.35 L 462.0,1108.97 L 464.0,1109.55 L 466.0,1110.04 L 468.0,1110.42 L 470.0,1110.68 L 472.0,1110.79 L 474.0,1110.76 L 476.0,1110.59 L 478.0,1110.28 L 480.0,1109.85 L 482.0,1109.33 L 484.0,1108.73 L 486.0,1108.10 L 488.0,1107.46 L 490.0,1106.85 L 492.0,1106.30 L 494.0,1105.84 L 496.0,1105.49 L 498.0,1105.27 L 500.0,1105.20 L 502.0,1105.27 L 504.0,1105.49 L 506.0,1105.84 L 508.0,1106.30 L 510.0,1106.85 L 512.0,1107.46 L 514.0,1108.10 L 516.0,1108.73 L 518.0,1109.33 L 520.0,1109.85 L 522.0,1110.28 L 524.0,1110.59 L 526.0,1110.76 L 528.0,1110.79 L 530.0,1110.68 L 532.0,1110.42 L 534.0,1110.04 L 536.0,1109.55 L 538.0,1108.97 L 540.0,1108.35 L 542.0,1107.71 L 544.0,1107.09 L 546.0,1106.51 L 548.0,1106.01 L 550.0,1105.61 L 552.0,1105.34 L 554.0,1105.21 L 556.0,1105.23 L 558.0,1105.39 L 560.0,1105.68 L 562.0,1106.10 L 564.0,1106.62 L 566.0,1107.21 L 568.0,1107.84 L 570.0,1108.48 L 572.0,1109.09 L 574.0,1109.65 L 576.0,1110.12 L 578.0,1110.48 L 580.0,1110.71 L 582.0,1110.80 L 584.0,1110.74 L 586.0,1110.54 L 588.0,1110.20 L 590.0,1109.75 L 592.0,1109.21 L 594.0,1108.61 L 596.0,1107.97 L 598.0,1107.33 L 600.0,1106.73 L 602.0,1106.20 L 604.0,1105.76 L 606.0,1105.44 L 608.0,1105.25 L 610.0,1105.20 L 612.0,1105.31 L 614.0,1105.55 L 616.0,1105.92 L 618.0,1106.40 L 620.0,1106.97 L 622.0,1107.58 L 624.0,1108.22 L 626.0,1108.85 L 628.0,1109.44 L 630.0,1109.95 L 632.0,1110.35 L 634.0,1110.64 L 636.0,1110.78 L 638.0,1110.78 L 640.0,1110.64 L 642.0,1110.35 L 644.0,1109.95 L 646.0,1109.44 L 648.0,1108.85 L 650.0,1108.22 L 652.0,1107.58 L 654.0,1106.97 L 656.0,1106.40 L 658.0,1105.92 L 660.0,1105.55 L 662.0,1105.31 L 664.0,1105.20 L 666.0,1105.25 L 668.0,1105.44 L 670.0,1105.76 L 672.0,1106.20 L 674.0,1106.73 L 676.0,1107.33 L 678.0,1107.97 L 680.0,1108.61 L 682.0,1109.21 L 684.0,1109.75 L 686.0,1110.20 L 688.0,1110.54 L 690.0,1110.74 L 692.0,1110.80 L 694.0,1110.71 L 696.0,1110.48 L 698.0,1110.12 L 700.0,1109.65 L 702.0,1109.09 L 704.0,1108.48 L 706.0,1107.84 L 708.0,1107.21 L 710.0,1106.62 L 712.0,1106.10 L 714.0,1105.68 L 716.0,1105.39 L 718.0,1105.23 L 720.0,1105.21 L 722.0,1105.34 L 724.0,1105.61 L 726.0,1106.01 L 728.0,1106.51 L 730.0,1107.09 L 732.0,1107.71 L 734.0,1108.35 L 736.0,1108.97 L 738.0,1109.55 L 740.0,1110.04 L 742.0,1110.42 L 744.0,1110.68 L 746.0,1110.79 L 748.0,1110.76 L 750.0,1110.59 L 752.0,1110.28 L 754.0,1109.85 L 756.0,1109.33 L 758.0,1108.73 L 760.0,1108.10 L 762.0,1107.46 L 764.0,1106.85 L 766.0,1106.30 L 768.0,1105.84 L 770.0,1105.49 L 772.0,1105.27 L 774.0,1105.20 L 776.0,1105.27 L 778.0,1105.49 L 780.0,1105.84 L 782.0,1106.30 L 784.0,1106.85 L 786.0,1107.46 L 788.0,1108.10 L 790.0,1108.73 L 792.0,1109.33 L 794.0,1109.85 L 796.0,1110.28 L 798.0,1110.59 L 800.0,1110.76 L 802.0,1110.79 L 804.0,1110.68 L 806.0,1110.42 L 808.0,1110.04 L 810.0,1109.55 L 812.0,1108.97 L 814.0,1108.35 L 816.0,1107.71 L 818.0,1107.09 L 820.0,1106.51 L 822.0,1106.01 L 824.0,1105.61 L 826.0,1105.34 L 828.0,1105.21 L 830.0,1105.23 L 832.0,1105.39 L 834.0,1105.68 L 836.0,1106.10 L 838.0,1106.62 L 840.0,1107.21 L 842.0,1107.84 L 844.0,1108.48 L 846.0,1109.09 L 848.0,1109.65 L 850.0,1110.12 L 852.0,1110.48 L 854.0,1110.71 L 856.0,1110.80 L 858.0,1110.74 L 860.0,1110.54 L 862.0,1110.20 L 864.0,1109.75 L 866.0,1109.21 L 868.0,1108.61 L 870.0,1107.97 L 872.0,1107.33 L 874.0,1106.73 L 876.0,1106.20 L 878.0,1105.76 L 880.0,1105.44 L 882.0,1105.25 L 884.0,1105.20 L 886.0,1105.31 L 888.0,1105.55 L 890.0,1105.92 L 892.0,1106.40 L 894.0,1106.97 L 896.0,1107.58 L 898.0,1108.22 L 900.0,1108.85 L 902.0,1109.44 L 904.0,1109.95 L 906.0,1110.35 L 908.0,1110.64 L 910.0,1110.78 L 912.0,1110.78 L 914.0,1110.64 L 916.0,1110.35 L 918.0,1109.95 L 920.0,1109.44 L 922.0,1108.85 L 924.0,1108.22 L 926.0,1107.58 L 928.0,1106.97 L 930.0,1106.40 L 932.0,1105.92 L 934.0,1105.55 L 936.0,1105.31 L 938.0,1105.20 L 940.0,1105.25 L 942.0,1105.44 L 944.0,1105.76 L 946.0,1106.20 L 948.0,1106.73 L 950.0,1107.33 L 952.0,1107.97 L 954.0,1108.61 L 956.0,1109.21 L 958.0,1109.75 L 960.0,1110.20 L 962.0,1110.54 L 964.0,1110.74 L 966.0,1110.80 L 968.0,1110.71 L 970.0,1110.48 L 972.0,1110.12 L 974.0,1109.65 L 976.0,1109.09 L 978.0,1108.48 L 980.0,1107.84 L 982.0,1107.21 L 984.0,1106.62 L 986.0,1106.10 L 988.0,1105.68 L 990.0,1105.39 L 992.0,1105.23 L 994.0,1105.21 L 996.0,1105.34 L 998.0,1105.61 L 1000.0,1106.01 L 1002.0,1106.51 L 1004.0,1107.09 L 1006.0,1107.71 L 1008.0,1108.35 L 1010.0,1108.97 L 1012.0,1109.55 L 1014.0,1110.04 L 1016.0,1110.42 L 1018.0,1110.68 L 1020.0,1110.79 L 1022.0,1110.76 L 1024.0,1110.59 L 1026.0,1110.28 L 1028.0,1109.85 L 1030.0,1109.33 L 1032.0,1108.73 L 1034.0,1108.10 L 1036.0,1107.46 L 1038.0,1106.85 L 1040.0,1106.30 L 1042.0,1105.84 L 1044.0,1105.49 L 1046.0,1105.27 L 1048.0,1105.20 L 1050.0,1105.27 L 1052.0,1105.49 L 1054.0,1105.84 L 1056.0,1106.30 L 1058.0,1106.85 L 1060.0,1107.46 L 1062.0,1108.10 L 1064.0,1108.73 L 1066.0,1109.33 L 1068.0,1109.85 L 1070.0,1110.28 L 1072.0,1110.59 L 1074.0,1110.76 L 1076.0,1110.79 L 1078.0,1110.68 L 1080.0,1110.42 L 1082.0,1110.04 L 1084.0,1109.55 L 1086.0,1108.97 L 1088.0,1108.35 L 1090.0,1107.71 L 1092.0,1107.09 L 1094.0,1106.51 L 1096.0,1106.01 L 1098.0,1105.61 L 1100.0,1105.34 L 1102.0,1105.21 L 1104.0,1105.23 L 1106.0,1105.39 L 1108.0,1105.68 L 1110.0,1106.10 L 1112.0,1106.62 L 1114.0,1107.21 L 1116.0,1107.84 L 1118.0,1108.48 L 1120.0,1109.09 L 1122.0,1109.65 L 1124.0,1110.12 L 1126.0,1110.48 L 1128.0,1110.71 L 1130.0,1110.80 L 1132.0,1110.74 L 1134.0,1110.54 L 1136.0,1110.20 L 1138.0,1109.75 L 1140.0,1109.21 L 1142.0,1108.61 L 1144.0,1107.97 L 1146.0,1107.33 L 1148.0,1106.73 L 1150.0,1106.20 L 1152.0,1105.76 L 1154.0,1105.44 L 1156.0,1105.25 L 1158.0,1105.20 L 1160.0,1105.31 L 1162.0,1105.55 L 1164.0,1105.92 L 1166.0,1106.40 L 1168.0,1106.97 L 1170.0,1107.58 L 1172.0,1108.22 L 1174.0,1108.85 L 1176.0,1109.44 L 1178.0,1109.95 L 1180.0,1110.35 L 1182.0,1110.64 L 1184.0,1110.78 L 1186.0,1110.78 L 1188.0,1110.64 L 1190.0,1110.35 L 1192.0,1109.95 L 1194.0,1109.44 L 1196.0,1108.85 L 1198.0,1108.22 L 1200.0,1107.58 L 1202.0,1106.97 L 1204.0,1106.40 L 1206.0,1105.92 L 1208.0,1105.55 L 1210.0,1105.31 L 1212.0,1105.20 L 1214.0,1105.25 L 1216.0,1105.44 L 1218.0,1105.76 L 1220.0,1106.20 L 1222.0,1106.73 L 1224.0,1107.33 L 1226.0,1107.97 L 1228.0,1108.61 L 1230.0,1109.21 L 1232.0,1109.75 L 1234.0,1110.20 L 1236.0,1110.54 L 1238.0,1110.74 L 1240.0,1110.80 L 1242.0,1110.71 L 1244.0,1110.48 L 1246.0,1110.12 L 1248.0,1109.65 L 1250.0,1109.09 L 1252.0,1108.48 L 1254.0,1107.84 L 1256.0,1107.21 L 1258.0,1106.62 L 1260.0,1106.10 L 1262.0,1105.68 L 1264.0,1105.39 L 1266.0,1105.23 L 1268.0,1105.21 L 1270.0,1105.34 L 1272.0,1105.61 L 1274.0,1106.01 L 1276.0,1106.51 L 1278.0,1107.09 L 1280.0,1107.71 L 1282.0,1108.35 L 1284.0,1108.97 L 1286.0,1109.55 L 1288.0,1110.04 L 1290.0,1110.42 L 1292.0,1110.68 L 1294.0,1110.79 L 1296.0,1110.76 L 1298.0,1110.59 L 1300.0,1110.28 L 1302.0,1109.85 L 1304.0,1109.33 L 1306.0,1108.73 L 1308.0,1108.10 L 1310.0,1107.46 L 1312.0,1106.85 L 1314.0,1106.30 L 1316.0,1105.84 L 1318.0,1105.49 L 1320.0,1105.27 L 1322.0,1105.20 L 1324.0,1105.27 L 1326.0,1105.49 L 1328.0,1105.84 L 1330.0,1106.30 L 1332.0,1106.85 L 1334.0,1107.46 L 1336.0,1108.10 L 1338.0,1108.73 L 1340.0,1109.33 L 1342.0,1109.85 L 1344.0,1110.28 L 1346.0,1110.59 L 1348.0,1110.76 L 1350.0,1110.79 L 1352.0,1110.68 L 1354.0,1110.42 L 1356.0,1110.04 L 1358.0,1109.55 L 1360.0,1108.97 L 1362.0,1108.35 L 1364.0,1107.71 L 1366.0,1107.09 L 1368.0,1106.51 L 1370.0,1106.01 L 1372.0,1105.61 L 1374.0,1105.34 L 1376.0,1105.21 L 1378.0,1105.23 L 1380.0,1105.39 L 1382.0,1105.68 L 1384.0,1106.10 L 1386.0,1106.62 L 1388.0,1107.21 L 1390.0,1107.84 L 1392.0,1108.48 L 1394.0,1109.09 L 1396.0,1109.65 L 1398.0,1110.12 L 1400.0,1110.48 L 1402.0,1110.71 L 1404.0,1110.80 L 1406.0,1110.74 L 1408.0,1110.54 L 1410.0,1110.20 L 1412.0,1109.75 L 1414.0,1109.21 L 1416.0,1108.61 L 1418.0,1107.97 L 1420.0,1107.33 L 1422.0,1106.73 L 1424.0,1106.20 L 1426.0,1105.76 L 1428.0,1105.44 L 1430.0,1105.25 L 1432.0,1105.20 L 1434.0,1105.31 L 1436.0,1105.55 L 1438.0,1105.92 L 1440.0,1106.40 L 1442.0,1106.97 L 1444.0,1107.58 L 1446.0,1108.22 L 1448.0,1108.85 L 1450.0,1109.44 L 1452.0,1109.95 L 1454.0,1110.35 L 1456.0,1110.64 L 1458.0,1110.78 L 1460.0,1110.78 L 1462.0,1110.64 L 1464.0,1110.35 L 1466.0,1109.95 L 1468.0,1109.44 L 1470.0,1108.85 L 1472.0,1108.22 L 1474.0,1107.58 L 1476.0,1106.97 L 1478.0,1106.40 L 1480.0,1105.92 L 1482.0,1105.55 L 1484.0,1105.31 L 1486.0,1105.20 L 1488.0,1105.25 L 1490.0,1105.44 L 1492.0,1105.76 L 1494.0,1106.20 L 1496.0,1106.73 L 1498.0,1107.33 L 1500.0,1107.97 L 1502.0,1108.61 L 1504.0,1109.21 L 1506.0,1109.75 L 1508.0,1110.20 L 1510.0,1110.54 L 1512.0,1110.74 L 1514.0,1110.80 L 1516.0,1110.71 L 1518.0,1110.48 L 1520.0,1110.12 L 1522.0,1109.65 L 1524.0,1109.09 L 1526.0,1108.48 L 1528.0,1107.84 L 1530.0,1107.21 L 1532.0,1106.62 L 1534.0,1106.10 L 1536.0,1105.68 L 1538.0,1105.39 L 1540.0,1105.23 L 1542.0,1105.21 L 1544.0,1105.34 L 1546.0,1105.61 L 1548.0,1106.01 L 1550.0,1106.51 L 1552.0,1107.09 L 1554.0,1107.71 L 1556.0,1108.35 L 1558.0,1108.97 L 1560.0,1109.55 L 1562.0,1110.04 L 1564.0,1110.42 L 1566.0,1110.68 L 1568.0,1110.79 L 1570.0,1110.76 L 1572.0,1110.59 L 1574.0,1110.28 L 1576.0,1109.85 L 1578.0,1109.33 L 1580.0,1108.73 L 1582.0,1108.10 L 1584.0,1107.46 L 1586.0,1106.85 L 1588.0,1106.30 L 1590.0,1105.84 L 1592.0,1105.49 L 1594.0,1105.27 L 1596.0,1105.20 L 1598.0,1105.27 L 1600.0,1105.49 L 1602.0,1105.84 L 1604.0,1106.30 L 1606.0,1106.85 L 1608.0,1107.46 L 1610.0,1108.10 L 1612.0,1108.73 L 1614.0,1109.33 L 1616.0,1109.85 L 1618.0,1110.28 L 1620.0,1110.59 L 1622.0,1110.76 L 1624.0,1110.79 L 1626.0,1110.68 L 1628.0,1110.42 L 1630.0,1110.04 L 1632.0,1109.55 L 1634.0,1108.97 L 1636.0,1108.35 L 1638.0,1107.71 L 1640.0,1107.09 L 1642.0,1106.51 L 1644.0,1106.01 L 1646.0,1105.61 L 1648.0,1105.34 L 1650.0,1105.21 L 1652.0,1105.23 L 1654.0,1105.39 L 1656.0,1105.68 L 1658.0,1106.10 L 1660.0,1106.62 L 1662.0,1107.21 L 1664.0,1107.84 L 1666.0,1108.48 L 1668.0,1109.09 L 1670.0,1109.65 L 1672.0,1110.12 L 1674.0,1110.48 L 1676.0,1110.71 L 1678.0,1110.80 L 1680.0,1110.74 L 1682.0,1110.54 L 1684.0,1110.20 L 1686.0,1109.75 L 1688.0,1109.21 L 1690.0,1108.61 L 1692.0,1107.97 L 1694.0,1107.33 L 1696.0,1106.73 L 1698.0,1106.20 L 1700.0,1105.76 L 1702.0,1105.44 L 1704.0,1105.25 L 1706.0,1105.20 L 1708.0,1105.31 L 1710.0,1105.55 L 1712.0,1105.92 L 1714.0,1106.40 L 1716.0,1106.97 L 1718.0,1107.58 L 1720.0,1108.22 L 1722.0,1108.85 L 1724.0,1109.44 L 1726.0,1109.95 L 1728.0,1110.35 L 1730.0,1110.64 L 1732.0,1110.78 L 1734.0,1110.78 L 1736.0,1110.64 L 1738.0,1110.35 L 1740.0,1109.95 L 1742.0,1109.44 L 1744.0,1108.85 L 1746.0,1108.22 L 1748.0,1107.58 L 1750.0,1106.97 L 1752.0,1106.40 L 1754.0,1105.92 L 1756.0,1105.55 L 1758.0,1105.31 L 1760.0,1105.20 L 1762.0,1105.25 L 1764.0,1105.44 L 1766.0,1105.76 L 1768.0,1106.20 L 1770.0,1106.73 L 1772.0,1107.33 L 1774.0,1107.97 L 1776.0,1108.61 L 1778.0,1109.21 L 1780.0,1109.75 L 1782.0,1110.20 L 1784.0,1110.54 L 1786.0,1110.74 L 1788.0,1110.80 L 1790.0,1110.71 L 1792.0,1110.48 L 1794.0,1110.12 L 1796.0,1109.65 L 1798.0,1109.09 L 1800.0,1108.48 L 1802.0,1107.84 L 1804.0,1107.21 L 1806.0,1106.62 L 1808.0,1106.10 L 1810.0,1105.68 L 1812.0,1105.39 L 1814.0,1105.23 L 1816.0,1105.21 L 1818.0,1105.34 L 1820.0,1105.61 L 1822.0,1106.01 L 1824.0,1106.51 L 1826.0,1107.09 L 1828.0,1107.71 L 1830.0,1108.35 L 1832.0,1108.97 L 1834.0,1109.55 L 1836.0,1110.04 L 1838.0,1110.42 L 1840.0,1110.68 L 1842.0,1110.79 L 1844.0,1110.76 L 1846.0,1110.59 L 1848.0,1110.28 L 1850.0,1109.85 L 1852.0,1109.33 L 1854.0,1108.73 L 1856.0,1108.10 L 1858.0,1107.46 L 1860.0,1106.85 L 1862.0,1106.30 L 1864.0,1105.84 L 1866.0,1105.49 L 1868.0,1105.27 L 1870.0,1105.20 L 1872.0,1105.27 L 1874.0,1105.49 L 1876.0,1105.84 L 1878.0,1106.30 L 1880.0,1106.85 L 1882.0,1107.46 L 1884.0,1108.10 L 1886.0,1108.73 L 1888.0,1109.33 L 1890.0,1109.85 L 1892.0,1110.28 L 1894.0,1110.59 L 1896.0,1110.76 L 1898.0,1110.79 L 1900.0,1110.68 L 1902.0,1110.42 L 1904.0,1110.04 L 1906.0,1109.55 L 1908.0,1108.97 L 1910.0,1108.35 L 1912.0,1107.71 L 1914.0,1107.09 L 1916.0,1106.51 L 1918.0,1106.01 L 1920.0,1105.61 L 1922.0,1105.34 L 1924.0,1105.21 L 1926.0,1105.23 L 1928.0,1105.39 L 1930.0,1105.68 L 1932.0,1106.10 L 1934.0,1106.62 L 1936.0,1107.21 L 1938.0,1107.84 L 1940.0,1108.48 L 1942.0,1109.09 L 1944.0,1109.65 L 1946.0,1110.12 L 1948.0,1110.48 L 1950.0,1110.71 L 1952.0,1110.80 L 1954.0,1110.74 L 1956.0,1110.54 L 1956.0,1116.42 L 1954.0,1116.50 L 1952.0,1116.39 L 1950.0,1116.11 L 1948.0,1115.73 L 1946.0,1115.33 L 1944.0,1114.97 L 1942.0,1114.75 L 1940.0,1114.71 L 1938.0,1114.84 L 1936.0,1115.14 L 1934.0,1115.53 L 1932.0,1115.93 L 1930.0,1116.27 L 1928.0,1116.47 L 1926.0,1116.48 L 1924.0,1116.32 L 1922.0,1116.01 L 1920.0,1115.61 L 1918.0,1115.21 L 1916.0,1114.89 L 1914.0,1114.72 L 1912.0,1114.73 L 1910.0,1114.92 L 1908.0,1115.25 L 1906.0,1115.65 L 1904.0,1116.04 L 1902.0,1116.34 L 1900.0,1116.49 L 1898.0,1116.45 L 1896.0,1116.24 L 1894.0,1115.89 L 1892.0,1115.49 L 1890.0,1115.10 L 1888.0,1114.82 L 1886.0,1114.70 L 1884.0,1114.77 L 1882.0,1115.00 L 1880.0,1115.37 L 1878.0,1115.77 L 1876.0,1116.15 L 1874.0,1116.41 L 1872.0,1116.50 L 1870.0,1116.41 L 1868.0,1116.15 L 1866.0,1115.77 L 1864.0,1115.37 L 1862.0,1115.00 L 1860.0,1114.77 L 1858.0,1114.70 L 1856.0,1114.82 L 1854.0,1115.10 L 1852.0,1115.49 L 1850.0,1115.89 L 1848.0,1116.24 L 1846.0,1116.45 L 1844.0,1116.49 L 1842.0,1116.34 L 1840.0,1116.04 L 1838.0,1115.65 L 1836.0,1115.25 L 1834.0,1114.92 L 1832.0,1114.73 L 1830.0,1114.72 L 1828.0,1114.89 L 1826.0,1115.21 L 1824.0,1115.61 L 1822.0,1116.01 L 1820.0,1116.32 L 1818.0,1116.48 L 1816.0,1116.47 L 1814.0,1116.27 L 1812.0,1115.93 L 1810.0,1115.53 L 1808.0,1115.14 L 1806.0,1114.84 L 1804.0,1114.71 L 1802.0,1114.75 L 1800.0,1114.97 L 1798.0,1115.33 L 1796.0,1115.73 L 1794.0,1116.11 L 1792.0,1116.39 L 1790.0,1116.50 L 1788.0,1116.42 L 1786.0,1116.18 L 1784.0,1115.81 L 1782.0,1115.41 L 1780.0,1115.04 L 1778.0,1114.78 L 1776.0,1114.70 L 1774.0,1114.80 L 1772.0,1115.07 L 1770.0,1115.45 L 1768.0,1115.85 L 1766.0,1116.21 L 1764.0,1116.44 L 1762.0,1116.50 L 1760.0,1116.37 L 1758.0,1116.08 L 1756.0,1115.69 L 1754.0,1115.29 L 1752.0,1114.95 L 1750.0,1114.74 L 1748.0,1114.71 L 1746.0,1114.87 L 1744.0,1115.17 L 1742.0,1115.57 L 1740.0,1115.97 L 1738.0,1116.30 L 1736.0,1116.48 L 1734.0,1116.48 L 1732.0,1116.30 L 1730.0,1115.97 L 1728.0,1115.57 L 1726.0,1115.17 L 1724.0,1114.87 L 1722.0,1114.71 L 1720.0,1114.74 L 1718.0,1114.95 L 1716.0,1115.29 L 1714.0,1115.69 L 1712.0,1116.08 L 1710.0,1116.37 L 1708.0,1116.50 L 1706.0,1116.44 L 1704.0,1116.21 L 1702.0,1115.85 L 1700.0,1115.45 L 1698.0,1115.07 L 1696.0,1114.80 L 1694.0,1114.70 L 1692.0,1114.78 L 1690.0,1115.04 L 1688.0,1115.41 L 1686.0,1115.81 L 1684.0,1116.18 L 1682.0,1116.42 L 1680.0,1116.50 L 1678.0,1116.39 L 1676.0,1116.11 L 1674.0,1115.73 L 1672.0,1115.33 L 1670.0,1114.97 L 1668.0,1114.75 L 1666.0,1114.71 L 1664.0,1114.84 L 1662.0,1115.14 L 1660.0,1115.53 L 1658.0,1115.93 L 1656.0,1116.27 L 1654.0,1116.47 L 1652.0,1116.48 L 1650.0,1116.32 L 1648.0,1116.01 L 1646.0,1115.61 L 1644.0,1115.21 L 1642.0,1114.89 L 1640.0,1114.72 L 1638.0,1114.73 L 1636.0,1114.92 L 1634.0,1115.25 L 1632.0,1115.65 L 1630.0,1116.04 L 1628.0,1116.34 L 1626.0,1116.49 L 1624.0,1116.45 L 1622.0,1116.24 L 1620.0,1115.89 L 1618.0,1115.49 L 1616.0,1115.10 L 1614.0,1114.82 L 1612.0,1114.70 L 1610.0,1114.77 L 1608.0,1115.00 L 1606.0,1115.37 L 1604.0,1115.77 L 1602.0,1116.15 L 1600.0,1116.41 L 1598.0,1116.50 L 1596.0,1116.41 L 1594.0,1116.15 L 1592.0,1115.77 L 1590.0,1115.37 L 1588.0,1115.00 L 1586.0,1114.77 L 1584.0,1114.70 L 1582.0,1114.82 L 1580.0,1115.10 L 1578.0,1115.49 L 1576.0,1115.89 L 1574.0,1116.24 L 1572.0,1116.45 L 1570.0,1116.49 L 1568.0,1116.34 L 1566.0,1116.04 L 1564.0,1115.65 L 1562.0,1115.25 L 1560.0,1114.92 L 1558.0,1114.73 L 1556.0,1114.72 L 1554.0,1114.89 L 1552.0,1115.21 L 1550.0,1115.61 L 1548.0,1116.01 L 1546.0,1116.32 L 1544.0,1116.48 L 1542.0,1116.47 L 1540.0,1116.27 L 1538.0,1115.93 L 1536.0,1115.53 L 1534.0,1115.14 L 1532.0,1114.84 L 1530.0,1114.71 L 1528.0,1114.75 L 1526.0,1114.97 L 1524.0,1115.33 L 1522.0,1115.73 L 1520.0,1116.11 L 1518.0,1116.39 L 1516.0,1116.50 L 1514.0,1116.42 L 1512.0,1116.18 L 1510.0,1115.81 L 1508.0,1115.41 L 1506.0,1115.04 L 1504.0,1114.78 L 1502.0,1114.70 L 1500.0,1114.80 L 1498.0,1115.07 L 1496.0,1115.45 L 1494.0,1115.85 L 1492.0,1116.21 L 1490.0,1116.44 L 1488.0,1116.50 L 1486.0,1116.37 L 1484.0,1116.08 L 1482.0,1115.69 L 1480.0,1115.29 L 1478.0,1114.95 L 1476.0,1114.74 L 1474.0,1114.71 L 1472.0,1114.87 L 1470.0,1115.17 L 1468.0,1115.57 L 1466.0,1115.97 L 1464.0,1116.30 L 1462.0,1116.48 L 1460.0,1116.48 L 1458.0,1116.30 L 1456.0,1115.97 L 1454.0,1115.57 L 1452.0,1115.17 L 1450.0,1114.87 L 1448.0,1114.71 L 1446.0,1114.74 L 1444.0,1114.95 L 1442.0,1115.29 L 1440.0,1115.69 L 1438.0,1116.08 L 1436.0,1116.37 L 1434.0,1116.50 L 1432.0,1116.44 L 1430.0,1116.21 L 1428.0,1115.85 L 1426.0,1115.45 L 1424.0,1115.07 L 1422.0,1114.80 L 1420.0,1114.70 L 1418.0,1114.78 L 1416.0,1115.04 L 1414.0,1115.41 L 1412.0,1115.81 L 1410.0,1116.18 L 1408.0,1116.42 L 1406.0,1116.50 L 1404.0,1116.39 L 1402.0,1116.11 L 1400.0,1115.73 L 1398.0,1115.33 L 1396.0,1114.97 L 1394.0,1114.75 L 1392.0,1114.71 L 1390.0,1114.84 L 1388.0,1115.14 L 1386.0,1115.53 L 1384.0,1115.93 L 1382.0,1116.27 L 1380.0,1116.47 L 1378.0,1116.48 L 1376.0,1116.32 L 1374.0,1116.01 L 1372.0,1115.61 L 1370.0,1115.21 L 1368.0,1114.89 L 1366.0,1114.72 L 1364.0,1114.73 L 1362.0,1114.92 L 1360.0,1115.25 L 1358.0,1115.65 L 1356.0,1116.04 L 1354.0,1116.34 L 1352.0,1116.49 L 1350.0,1116.45 L 1348.0,1116.24 L 1346.0,1115.89 L 1344.0,1115.49 L 1342.0,1115.10 L 1340.0,1114.82 L 1338.0,1114.70 L 1336.0,1114.77 L 1334.0,1115.00 L 1332.0,1115.37 L 1330.0,1115.77 L 1328.0,1116.15 L 1326.0,1116.41 L 1324.0,1116.50 L 1322.0,1116.41 L 1320.0,1116.15 L 1318.0,1115.77 L 1316.0,1115.37 L 1314.0,1115.00 L 1312.0,1114.77 L 1310.0,1114.70 L 1308.0,1114.82 L 1306.0,1115.10 L 1304.0,1115.49 L 1302.0,1115.89 L 1300.0,1116.24 L 1298.0,1116.45 L 1296.0,1116.49 L 1294.0,1116.34 L 1292.0,1116.04 L 1290.0,1115.65 L 1288.0,1115.25 L 1286.0,1114.92 L 1284.0,1114.73 L 1282.0,1114.72 L 1280.0,1114.89 L 1278.0,1115.21 L 1276.0,1115.61 L 1274.0,1116.01 L 1272.0,1116.32 L 1270.0,1116.48 L 1268.0,1116.47 L 1266.0,1116.27 L 1264.0,1115.93 L 1262.0,1115.53 L 1260.0,1115.14 L 1258.0,1114.84 L 1256.0,1114.71 L 1254.0,1114.75 L 1252.0,1114.97 L 1250.0,1115.33 L 1248.0,1115.73 L 1246.0,1116.11 L 1244.0,1116.39 L 1242.0,1116.50 L 1240.0,1116.42 L 1238.0,1116.18 L 1236.0,1115.81 L 1234.0,1115.41 L 1232.0,1115.04 L 1230.0,1114.78 L 1228.0,1114.70 L 1226.0,1114.80 L 1224.0,1115.07 L 1222.0,1115.45 L 1220.0,1115.85 L 1218.0,1116.21 L 1216.0,1116.44 L 1214.0,1116.50 L 1212.0,1116.37 L 1210.0,1116.08 L 1208.0,1115.69 L 1206.0,1115.29 L 1204.0,1114.95 L 1202.0,1114.74 L 1200.0,1114.71 L 1198.0,1114.87 L 1196.0,1115.17 L 1194.0,1115.57 L 1192.0,1115.97 L 1190.0,1116.30 L 1188.0,1116.48 L 1186.0,1116.48 L 1184.0,1116.30 L 1182.0,1115.97 L 1180.0,1115.57 L 1178.0,1115.17 L 1176.0,1114.87 L 1174.0,1114.71 L 1172.0,1114.74 L 1170.0,1114.95 L 1168.0,1115.29 L 1166.0,1115.69 L 1164.0,1116.08 L 1162.0,1116.37 L 1160.0,1116.50 L 1158.0,1116.44 L 1156.0,1116.21 L 1154.0,1115.85 L 1152.0,1115.45 L 1150.0,1115.07 L 1148.0,1114.80 L 1146.0,1114.70 L 1144.0,1114.78 L 1142.0,1115.04 L 1140.0,1115.41 L 1138.0,1115.81 L 1136.0,1116.18 L 1134.0,1116.42 L 1132.0,1116.50 L 1130.0,1116.39 L 1128.0,1116.11 L 1126.0,1115.73 L 1124.0,1115.33 L 1122.0,1114.97 L 1120.0,1114.75 L 1118.0,1114.71 L 1116.0,1114.84 L 1114.0,1115.14 L 1112.0,1115.53 L 1110.0,1115.93 L 1108.0,1116.27 L 1106.0,1116.47 L 1104.0,1116.48 L 1102.0,1116.32 L 1100.0,1116.01 L 1098.0,1115.61 L 1096.0,1115.21 L 1094.0,1114.89 L 1092.0,1114.72 L 1090.0,1114.73 L 1088.0,1114.92 L 1086.0,1115.25 L 1084.0,1115.65 L 1082.0,1116.04 L 1080.0,1116.34 L 1078.0,1116.49 L 1076.0,1116.45 L 1074.0,1116.24 L 1072.0,1115.89 L 1070.0,1115.49 L 1068.0,1115.10 L 1066.0,1114.82 L 1064.0,1114.70 L 1062.0,1114.77 L 1060.0,1115.00 L 1058.0,1115.37 L 1056.0,1115.77 L 1054.0,1116.15 L 1052.0,1116.41 L 1050.0,1116.50 L 1048.0,1116.41 L 1046.0,1116.15 L 1044.0,1115.77 L 1042.0,1115.37 L 1040.0,1115.00 L 1038.0,1114.77 L 1036.0,1114.70 L 1034.0,1114.82 L 1032.0,1115.10 L 1030.0,1115.49 L 1028.0,1115.89 L 1026.0,1116.24 L 1024.0,1116.45 L 1022.0,1116.49 L 1020.0,1116.34 L 1018.0,1116.04 L 1016.0,1115.65 L 1014.0,1115.25 L 1012.0,1114.92 L 1010.0,1114.73 L 1008.0,1114.72 L 1006.0,1114.89 L 1004.0,1115.21 L 1002.0,1115.61 L 1000.0,1116.01 L 998.0,1116.32 L 996.0,1116.48 L 994.0,1116.47 L 992.0,1116.27 L 990.0,1115.93 L 988.0,1115.53 L 986.0,1115.14 L 984.0,1114.84 L 982.0,1114.71 L 980.0,1114.75 L 978.0,1114.97 L 976.0,1115.33 L 974.0,1115.73 L 972.0,1116.11 L 970.0,1116.39 L 968.0,1116.50 L 966.0,1116.42 L 964.0,1116.18 L 962.0,1115.81 L 960.0,1115.41 L 958.0,1115.04 L 956.0,1114.78 L 954.0,1114.70 L 952.0,1114.80 L 950.0,1115.07 L 948.0,1115.45 L 946.0,1115.85 L 944.0,1116.21 L 942.0,1116.44 L 940.0,1116.50 L 938.0,1116.37 L 936.0,1116.08 L 934.0,1115.69 L 932.0,1115.29 L 930.0,1114.95 L 928.0,1114.74 L 926.0,1114.71 L 924.0,1114.87 L 922.0,1115.17 L 920.0,1115.57 L 918.0,1115.97 L 916.0,1116.30 L 914.0,1116.48 L 912.0,1116.48 L 910.0,1116.30 L 908.0,1115.97 L 906.0,1115.57 L 904.0,1115.17 L 902.0,1114.87 L 900.0,1114.71 L 898.0,1114.74 L 896.0,1114.95 L 894.0,1115.29 L 892.0,1115.69 L 890.0,1116.08 L 888.0,1116.37 L 886.0,1116.50 L 884.0,1116.44 L 882.0,1116.21 L 880.0,1115.85 L 878.0,1115.45 L 876.0,1115.07 L 874.0,1114.80 L 872.0,1114.70 L 870.0,1114.78 L 868.0,1115.04 L 866.0,1115.41 L 864.0,1115.81 L 862.0,1116.18 L 860.0,1116.42 L 858.0,1116.50 L 856.0,1116.39 L 854.0,1116.11 L 852.0,1115.73 L 850.0,1115.33 L 848.0,1114.97 L 846.0,1114.75 L 844.0,1114.71 L 842.0,1114.84 L 840.0,1115.14 L 838.0,1115.53 L 836.0,1115.93 L 834.0,1116.27 L 832.0,1116.47 L 830.0,1116.48 L 828.0,1116.32 L 826.0,1116.01 L 824.0,1115.61 L 822.0,1115.21 L 820.0,1114.89 L 818.0,1114.72 L 816.0,1114.73 L 814.0,1114.92 L 812.0,1115.25 L 810.0,1115.65 L 808.0,1116.04 L 806.0,1116.34 L 804.0,1116.49 L 802.0,1116.45 L 800.0,1116.24 L 798.0,1115.89 L 796.0,1115.49 L 794.0,1115.10 L 792.0,1114.82 L 790.0,1114.70 L 788.0,1114.77 L 786.0,1115.00 L 784.0,1115.37 L 782.0,1115.77 L 780.0,1116.15 L 778.0,1116.41 L 776.0,1116.50 L 774.0,1116.41 L 772.0,1116.15 L 770.0,1115.77 L 768.0,1115.37 L 766.0,1115.00 L 764.0,1114.77 L 762.0,1114.70 L 760.0,1114.82 L 758.0,1115.10 L 756.0,1115.49 L 754.0,1115.89 L 752.0,1116.24 L 750.0,1116.45 L 748.0,1116.49 L 746.0,1116.34 L 744.0,1116.04 L 742.0,1115.65 L 740.0,1115.25 L 738.0,1114.92 L 736.0,1114.73 L 734.0,1114.72 L 732.0,1114.89 L 730.0,1115.21 L 728.0,1115.61 L 726.0,1116.01 L 724.0,1116.32 L 722.0,1116.48 L 720.0,1116.47 L 718.0,1116.27 L 716.0,1115.93 L 714.0,1115.53 L 712.0,1115.14 L 710.0,1114.84 L 708.0,1114.71 L 706.0,1114.75 L 704.0,1114.97 L 702.0,1115.33 L 700.0,1115.73 L 698.0,1116.11 L 696.0,1116.39 L 694.0,1116.50 L 692.0,1116.42 L 690.0,1116.18 L 688.0,1115.81 L 686.0,1115.41 L 684.0,1115.04 L 682.0,1114.78 L 680.0,1114.70 L 678.0,1114.80 L 676.0,1115.07 L 674.0,1115.45 L 672.0,1115.85 L 670.0,1116.21 L 668.0,1116.44 L 666.0,1116.50 L 664.0,1116.37 L 662.0,1116.08 L 660.0,1115.69 L 658.0,1115.29 L 656.0,1114.95 L 654.0,1114.74 L 652.0,1114.71 L 650.0,1114.87 L 648.0,1115.17 L 646.0,1115.57 L 644.0,1115.97 L 642.0,1116.30 L 640.0,1116.48 L 638.0,1116.48 L 636.0,1116.30 L 634.0,1115.97 L 632.0,1115.57 L 630.0,1115.17 L 628.0,1114.87 L 626.0,1114.71 L 624.0,1114.74 L 622.0,1114.95 L 620.0,1115.29 L 618.0,1115.69 L 616.0,1116.08 L 614.0,1116.37 L 612.0,1116.50 L 610.0,1116.44 L 608.0,1116.21 L 606.0,1115.85 L 604.0,1115.45 L 602.0,1115.07 L 600.0,1114.80 L 598.0,1114.70 L 596.0,1114.78 L 594.0,1115.04 L 592.0,1115.41 L 590.0,1115.81 L 588.0,1116.18 L 586.0,1116.42 L 584.0,1116.50 L 582.0,1116.39 L 580.0,1116.11 L 578.0,1115.73 L 576.0,1115.33 L 574.0,1114.97 L 572.0,1114.75 L 570.0,1114.71 L 568.0,1114.84 L 566.0,1115.14 L 564.0,1115.53 L 562.0,1115.93 L 560.0,1116.27 L 558.0,1116.47 L 556.0,1116.48 L 554.0,1116.32 L 552.0,1116.01 L 550.0,1115.61 L 548.0,1115.21 L 546.0,1114.89 L 544.0,1114.72 L 542.0,1114.73 L 540.0,1114.92 L 538.0,1115.25 L 536.0,1115.65 L 534.0,1116.04 L 532.0,1116.34 L 530.0,1116.49 L 528.0,1116.45 L 526.0,1116.24 L 524.0,1115.89 L 522.0,1115.49 L 520.0,1115.10 L 518.0,1114.82 L 516.0,1114.70 L 514.0,1114.77 L 512.0,1115.00 L 510.0,1115.37 L 508.0,1115.77 L 506.0,1116.15 L 504.0,1116.41 L 502.0,1116.50 L 500.0,1116.41 L 498.0,1116.15 L 496.0,1115.77 L 494.0,1115.37 L 492.0,1115.00 L 490.0,1114.77 L 488.0,1114.70 L 486.0,1114.82 L 484.0,1115.10 L 482.0,1115.49 L 480.0,1115.89 L 478.0,1116.24 L 476.0,1116.45 L 474.0,1116.49 L 472.0,1116.34 L 470.0,1116.04 L 468.0,1115.65 L 466.0,1115.25 L 464.0,1114.92 L 462.0,1114.73 L 460.0,1114.72 L 458.0,1114.89 L 456.0,1115.21 L 454.0,1115.61 L 452.0,1116.01 L 450.0,1116.32 L 448.0,1116.48 L 446.0,1116.47 L 444.0,1116.27 L 442.0,1115.93 L 440.0,1115.53 L 438.0,1115.14 L 436.0,1114.84 L 434.0,1114.71 L 432.0,1114.75 L 430.0,1114.97 L 428.0,1115.33 L 426.0,1115.73 L 424.0,1116.11 L 422.0,1116.39 L 420.0,1116.50 L 418.0,1116.42 L 416.0,1116.18 L 414.0,1115.81 L 412.0,1115.41 L 410.0,1115.04 L 408.0,1114.78 Z"/>
  <rect x="413" y="840" width="18" height="280" fill="url(#leftshade)"/>
</g>

<!-- white slit -->
<polygon fill="#ffffff" points="402,861 414,846 413.5,849 419,1110 417,1110"/>

<!-- ===== stitched boxes ===== -->
<g fill="none" stroke="#2a2a2a" stroke-linejoin="round">
  <path stroke-width="10" d="M 612,903 L 612,1070"/>
  <path stroke-width="10.5" d="M 717,902 L 717,1070"/>
  <path stroke-width="6.5" d="M 608,900.5 L 722,900.5"/>
  <path stroke-width="7.5" d="M 608,1071 L 722,1071"/>
  <path stroke-width="10.5" d="M 851,902 L 851,1070"/>
  <path stroke-width="10.5" d="M 956.5,902 L 956.5,1070"/>
  <path stroke-width="6.5" d="M 846,901 L 962,901"/>
  <path stroke-width="7.5" d="M 846,1070.5 L 962,1070.5"/>
</g>
<g fill="none" stroke="#242424" stroke-width="3.8" stroke-linejoin="round">
  <path d="M 622,905 L 631,918 L 636,925 L 640,934 L 651,950 L 656,960 L 666,978 L 670,987 L 676,1000 L 688,1022 L 711,1041"/>
  <path d="M 712,904 L 705,918 L 693,945 L 671,980 L 655,1006 L 633,1038 L 621,1060"/>
  <path d="M 859,905 L 866,916 L 873,930 L 882,948 L 893,962 L 906,982 L 916,1002 L 928,1020 L 951,1039"/>
  <path d="M 951,903 L 943,918 L 932,940 L 912,970 L 893,1000 L 872,1035 L 855,1066"/>
</g>

<!-- ===== D-ring ===== -->
<path fill="#1b1b1b" d="M 786,848 C 795,830 815,823 850,823 C 890,823 920,834 942,852 L 786,852 Z"/>
<path fill="#1e1d1d" d="M 775,1110 L 962,1110 C 942,1120 900,1127 850,1127 C 815,1127 792,1124 775,1117 Z"/>
<path fill="#c8c6c2" d="M 774,843 C 776,818 800,804 841,804 C 935,804 1003,885 1003,981 C 1003,1082 945,1151 860,1151 C 812,1151 780,1140 767,1121 L 784,1120 C 800,1126 825,1124 850,1124 C 925,1124 977,1062 977,981 C 977,895 920,822 850,822 C 815,822 795,830 787,843 Z"/>
<path fill="none" stroke="#8f8d89" stroke-width="1.5" d="M 774,843 C 776,818 800,804 841,804 C 880,804 915,818 938.6,838.7"/>
<path fill="none" stroke="#1a1a1a" stroke-width="3" d="M 938.6,838.7 C 978.5,871.2 1003,923.4 1003,981 C 1003,1082 945,1151 860,1151 C 812,1151 780,1140 767,1121"/>
<path fill="none" stroke="#1a1a1a" stroke-width="3" d="M 784,1120 C 800,1126 825,1124 850,1124 C 925,1124 977,1062 977,981 C 977,895 920,822 850,822 C 815,822 795,830 787,843"/>
<path fill="none" stroke="#8c8c8c" stroke-width="6" d="M 787,841 C 798,826 820,819 848,819 C 925,823 983,897 983,981 C 983,1066 932,1130 858,1130 C 818,1130 796,1124 782,1116"/>
<path fill="none" stroke="#3c3c3c" stroke-width="2.5" d="M 789,840 C 800,827 820,826 848,827 C 925,831 987,897 988,981 C 988,1070 935,1137 858,1138 C 818,1138 795,1130 781,1120"/>
<path fill="none" stroke="#f6f6f6" stroke-width="4.5" d="M 786,836 C 798,822 820,819 848,820 C 930,824 995,895 996,981 C 996,1078 940,1145 858,1145 C 815,1145 790,1136 776,1122"/>
<!-- ===== slider ===== -->
<path fill="#2a2a2a" fill-rule="evenodd" d="M 1686,833 C 1676,820 1665,817 1651,817 L 1640,817 C 1620,817 1607,835 1607,858 L 1610,1095 C 1610,1122 1630,1139 1656,1139 C 1672,1139 1684,1135 1693,1126 C 1703,1135 1714,1139 1730,1139 C 1755,1139 1772,1122 1772,1095 L 1769,860 C 1769,835 1752,816 1725,816 C 1708,816 1696,820 1686,833 Z
 M 1628,856 C 1628,851 1630,849 1635,849 L 1741,849 C 1746,849 1747,851 1747,856 L 1751,1100 C 1751,1106 1749,1108 1744,1108 L 1636,1108 C 1631,1108 1629,1106 1629,1100 Z"/>
<path fill="none" stroke="#505050" stroke-width="2" d="M 1686,845 C 1676,832 1665,828 1651,828 L 1642,828 C 1626,828 1618,842 1618,860 L 1621,1093 C 1621,1112 1634,1126 1652,1126 C 1668,1126 1680,1122 1692,1112 C 1702,1122 1714,1126 1729,1126 C 1748,1126 1761,1112 1761,1093 L 1758,862 C 1758,842 1746,827 1725,827 C 1708,827 1696,832 1686,845 Z"/>
</svg>
</body></html>
